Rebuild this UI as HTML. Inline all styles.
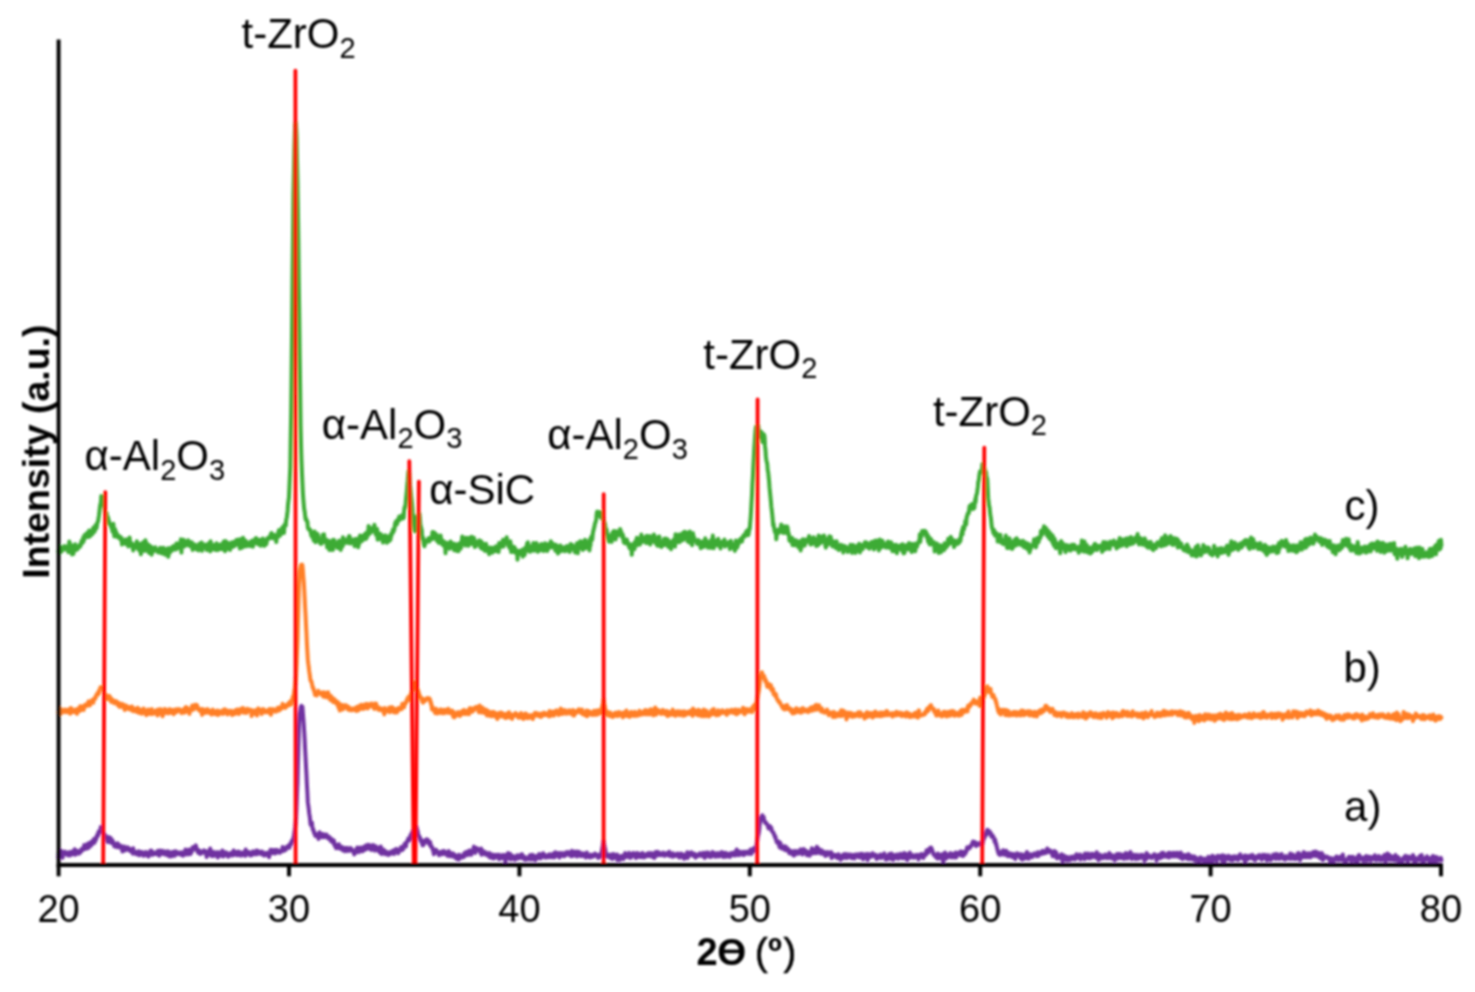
<!DOCTYPE html><html><head><meta charset="utf-8"><style>html,body{margin:0;padding:0;background:#fff;overflow:hidden}svg{display:block}</style></head><body><svg width="1475" height="992" viewBox="0 0 1475 992">
<defs><filter id="bl" filterUnits="userSpaceOnUse" x="0" y="0" width="1475" height="992"><feGaussianBlur stdDeviation="0.8"/></filter></defs>
<rect width="100%" height="100%" fill="#fff"/>
<g filter="url(#bl)">
<g fill="none" stroke-width="4.0" stroke-linejoin="round" stroke-linecap="round">
<polyline stroke="#7030A0" points="58.5,858.0 59.0,851.0 59.4,855.3 59.9,853.6 60.3,853.6 60.8,853.8 61.2,850.8 61.7,853.1 62.1,852.0 62.6,857.8 63.0,853.5 63.5,852.6 63.9,852.6 64.4,852.0 64.8,851.7 65.3,852.9 65.7,854.1 66.2,852.8 66.6,854.4 67.1,852.7 67.5,853.1 68.0,855.4 68.4,853.8 68.9,852.2 69.3,852.3 69.8,853.4 70.2,855.5 70.7,852.2 71.1,852.0 71.6,853.9 72.0,851.5 72.5,852.5 72.9,854.3 73.4,854.0 73.8,853.0 74.3,854.1 74.7,849.2 75.2,854.8 75.6,851.8 76.1,850.5 76.5,853.4 77.0,853.6 77.4,852.0 77.9,851.0 78.3,852.2 78.8,851.5 79.2,853.5 79.7,852.5 80.1,851.2 80.6,852.3 81.0,850.4 81.5,849.0 81.9,850.7 82.4,850.3 82.8,849.0 83.3,848.0 83.7,848.9 84.2,844.9 84.6,849.1 85.1,848.7 85.5,845.7 86.0,847.9 86.4,846.3 86.9,848.5 87.3,844.1 87.8,845.5 88.2,847.6 88.7,847.8 89.1,843.1 89.6,844.5 90.0,845.2 90.5,843.3 90.9,845.7 91.4,841.8 91.8,843.4 92.3,841.0 92.7,843.8 93.2,841.4 93.6,840.8 94.1,838.7 94.5,842.8 95.0,841.0 95.4,840.1 95.9,839.9 96.3,838.3 96.8,836.1 97.2,835.0 97.7,834.1 98.1,835.7 98.6,831.6 99.0,831.8 99.5,831.2 99.9,830.8 100.4,830.3 100.8,827.0 101.3,827.5 101.7,830.3 102.2,832.6 102.6,832.7 103.1,832.7 103.5,832.9 104.0,834.3 104.4,834.3 104.9,836.5 105.3,835.2 105.8,837.2 106.2,837.4 106.7,838.6 107.1,838.5 107.6,842.0 108.0,841.2 108.5,841.6 108.9,837.1 109.4,839.5 109.8,839.8 110.3,841.6 110.7,838.1 111.2,843.1 111.6,843.1 112.1,840.0 112.5,840.8 113.0,841.6 113.4,843.1 113.9,844.0 114.3,846.3 114.8,843.6 115.2,845.2 115.7,844.6 116.1,847.0 116.6,845.7 117.0,846.5 117.5,843.3 117.9,844.6 118.4,844.0 118.8,847.5 119.3,846.5 119.7,845.5 120.2,845.7 120.6,847.3 121.1,846.0 121.5,846.1 122.0,848.5 122.4,851.5 122.9,847.9 123.3,847.7 123.8,846.7 124.2,846.6 124.7,849.5 125.1,850.4 125.6,849.1 126.0,849.6 126.5,849.4 126.9,849.5 127.4,847.2 127.8,849.0 128.3,849.9 128.7,848.7 129.2,849.1 129.6,848.7 130.1,849.7 130.5,851.3 131.0,849.9 131.4,850.5 131.9,852.0 132.3,852.0 132.8,853.6 133.2,848.3 133.7,853.0 134.1,851.1 134.6,852.4 135.0,853.4 135.5,853.7 135.9,853.8 136.4,852.3 136.8,854.3 137.3,851.7 137.7,852.0 138.2,853.2 138.6,851.3 139.1,855.3 139.5,853.4 140.0,855.1 140.4,852.1 140.9,852.0 141.3,852.8 141.8,853.8 142.2,852.1 142.7,853.7 143.1,853.0 143.6,855.8 144.0,852.7 144.5,855.1 144.9,852.5 145.4,852.2 145.8,852.7 146.3,852.2 146.7,854.0 147.2,855.5 147.6,854.1 148.1,854.9 148.5,856.5 149.0,854.3 149.4,853.8 149.9,852.9 150.3,850.8 150.8,854.4 151.2,850.5 151.7,854.2 152.1,853.2 152.6,854.9 153.0,853.2 153.5,852.3 153.9,854.1 154.4,852.9 154.8,853.6 155.3,854.1 155.7,854.0 156.2,853.9 156.6,853.2 157.1,854.2 157.5,851.1 158.0,854.0 158.4,852.2 158.9,855.5 159.3,855.6 159.8,850.4 160.2,853.3 160.7,852.8 161.1,851.5 161.6,853.9 162.0,852.5 162.5,850.8 162.9,853.3 163.4,853.4 163.8,853.8 164.3,851.8 164.7,854.5 165.2,854.4 165.6,851.4 166.1,851.8 166.5,852.4 167.0,851.7 167.4,855.4 167.9,853.2 168.3,851.4 168.8,851.7 169.2,852.8 169.7,856.4 170.1,852.9 170.6,853.3 171.0,853.8 171.5,852.7 171.9,856.3 172.4,852.1 172.8,854.2 173.3,853.5 173.7,854.2 174.2,851.6 174.6,855.8 175.1,852.8 175.5,853.0 176.0,851.4 176.4,851.8 176.9,853.4 177.3,853.9 177.8,853.5 178.2,854.1 178.7,853.4 179.1,852.6 179.6,853.9 180.0,853.6 180.5,852.6 180.9,853.8 181.4,855.0 181.8,853.3 182.3,852.4 182.7,854.1 183.2,855.7 183.6,852.5 184.1,852.5 184.5,852.2 185.0,854.3 185.4,849.6 185.9,852.9 186.3,854.1 186.8,851.0 187.2,854.4 187.7,852.8 188.1,851.3 188.6,852.2 189.0,849.6 189.5,850.9 189.9,854.3 190.4,850.2 190.8,853.6 191.3,850.6 191.7,851.8 192.2,850.2 192.6,847.2 193.1,849.0 193.5,849.6 194.0,847.5 194.4,846.8 194.9,848.9 195.3,847.3 195.8,845.4 196.2,847.7 196.7,850.1 197.1,849.0 197.6,851.4 198.0,852.6 198.5,851.2 198.9,850.4 199.4,850.6 199.8,852.6 200.3,854.0 200.7,852.7 201.2,853.4 201.6,851.7 202.1,853.0 202.5,851.8 203.0,852.0 203.4,850.8 203.9,850.3 204.3,851.7 204.8,851.2 205.2,851.0 205.7,853.6 206.1,852.4 206.6,857.0 207.0,854.1 207.5,851.5 207.9,853.9 208.4,853.5 208.8,851.9 209.3,854.8 209.7,851.9 210.2,848.6 210.6,854.3 211.1,852.2 211.5,855.9 212.0,852.6 212.4,851.7 212.9,856.0 213.3,851.8 213.8,853.7 214.2,855.7 214.7,854.0 215.1,853.5 215.6,853.6 216.0,854.6 216.5,852.3 216.9,854.3 217.4,854.5 217.8,857.4 218.3,853.3 218.7,852.3 219.2,854.9 219.6,853.0 220.1,854.2 220.5,854.2 221.0,855.6 221.4,853.2 221.9,854.1 222.3,850.4 222.8,852.9 223.2,856.5 223.7,853.3 224.1,853.4 224.6,852.6 225.0,855.3 225.5,854.5 225.9,852.3 226.4,855.2 226.8,854.7 227.3,855.4 227.7,853.4 228.2,856.8 228.6,854.8 229.1,854.2 229.5,853.5 230.0,853.6 230.4,855.1 230.9,853.1 231.3,855.3 231.8,854.4 232.2,855.5 232.7,854.6 233.1,853.1 233.6,850.4 234.0,853.9 234.5,854.8 234.9,854.0 235.4,854.5 235.8,853.1 236.3,853.0 236.7,852.2 237.2,855.3 237.6,853.6 238.1,852.9 238.5,851.6 239.0,853.2 239.4,855.2 239.9,853.7 240.3,852.4 240.8,855.3 241.2,855.7 241.7,855.0 242.1,854.4 242.6,854.7 243.0,854.1 243.5,854.3 243.9,851.9 244.4,855.1 244.8,853.4 245.3,855.8 245.7,849.6 246.2,853.6 246.6,854.1 247.1,851.9 247.5,853.4 248.0,854.1 248.4,853.8 248.9,852.0 249.3,852.9 249.8,854.8 250.2,855.4 250.7,853.6 251.1,853.8 251.6,853.8 252.0,855.1 252.5,851.9 252.9,851.4 253.4,853.5 253.8,851.8 254.3,852.8 254.7,853.6 255.2,854.1 255.6,851.8 256.1,854.4 256.5,850.6 257.0,854.1 257.4,850.8 257.9,851.1 258.3,853.8 258.8,852.3 259.2,851.5 259.7,852.0 260.1,853.3 260.6,852.6 261.0,852.5 261.5,854.2 261.9,851.6 262.4,852.1 262.8,852.2 263.3,855.0 263.7,854.9 264.2,855.5 264.6,853.6 265.1,853.4 265.5,854.9 266.0,853.3 266.4,855.0 266.9,854.9 267.3,852.8 267.8,853.6 268.2,853.6 268.7,855.8 269.1,857.2 269.6,853.0 270.0,853.0 270.5,849.7 270.9,853.2 271.4,852.6 271.8,850.6 272.3,853.1 272.7,850.1 273.2,851.9 273.6,852.4 274.1,850.2 274.5,853.2 275.0,853.5 275.4,850.1 275.9,850.3 276.3,852.8 276.8,851.7 277.2,850.0 277.7,851.3 278.1,851.4 278.6,851.1 279.0,852.2 279.5,851.1 279.9,852.8 280.4,852.2 280.8,850.9 281.3,851.2 281.7,851.2 282.2,850.1 282.6,847.0 283.1,849.6 283.5,848.5 284.0,850.9 284.4,848.4 284.9,848.7 285.3,848.1 285.8,849.8 286.2,847.6 286.7,846.9 287.1,847.6 287.6,846.3 288.0,846.5 288.5,846.0 288.9,846.3 289.4,847.8 289.8,844.3 290.3,844.2 290.7,843.5 291.2,844.1 291.6,841.1 292.1,841.4 292.5,840.7 293.0,839.9 293.4,837.7 293.9,835.9 294.3,832.7 294.8,829.9 295.2,826.8 295.7,822.2 296.1,816.5 296.6,805.4 297.0,793.8 297.5,783.0 297.9,765.8 298.4,747.9 298.8,733.3 299.3,720.4 299.7,713.4 300.2,711.9 300.6,708.1 301.1,706.4 301.5,705.8 302.0,707.3 302.4,706.7 302.9,713.5 303.3,718.4 303.8,725.1 304.2,731.7 304.7,740.1 305.1,748.9 305.6,758.0 306.0,766.1 306.5,775.4 306.9,784.3 307.4,793.0 307.8,802.2 308.3,805.5 308.7,808.8 309.2,813.3 309.6,815.4 310.1,819.4 310.5,824.0 311.0,825.0 311.4,822.7 311.9,822.6 312.3,826.3 312.8,829.6 313.2,829.2 313.7,830.8 314.1,833.1 314.6,832.8 315.0,835.0 315.5,836.0 315.9,835.9 316.4,835.9 316.8,834.5 317.3,836.2 317.7,834.8 318.2,837.3 318.6,838.9 319.1,834.3 319.5,832.2 320.0,834.6 320.4,835.6 320.9,836.7 321.3,836.8 321.8,834.1 322.2,834.3 322.7,837.3 323.1,833.9 323.6,837.0 324.0,835.5 324.5,837.0 324.9,836.7 325.4,836.7 325.8,837.0 326.3,834.4 326.7,836.7 327.2,836.3 327.6,837.3 328.1,838.3 328.5,836.5 329.0,836.8 329.4,837.2 329.9,838.1 330.3,840.0 330.8,838.5 331.2,841.4 331.7,840.6 332.1,840.7 332.6,839.7 333.0,842.1 333.5,843.3 333.9,840.5 334.4,844.9 334.8,845.9 335.3,844.9 335.7,845.5 336.2,848.3 336.6,847.2 337.1,844.8 337.5,846.3 338.0,846.5 338.4,846.9 338.9,844.2 339.3,848.6 339.8,846.8 340.2,848.0 340.7,847.5 341.1,848.9 341.6,847.5 342.0,846.9 342.5,848.7 342.9,850.4 343.4,847.9 343.8,850.6 344.3,849.2 344.7,848.2 345.2,851.3 345.6,847.9 346.1,850.8 346.5,849.0 347.0,850.2 347.4,847.9 347.9,848.2 348.3,851.0 348.8,849.9 349.2,849.8 349.7,849.2 350.1,850.5 350.6,848.0 351.0,848.5 351.5,850.2 351.9,849.6 352.4,850.0 352.8,851.3 353.3,851.5 353.7,851.7 354.2,854.4 354.6,852.9 355.1,853.2 355.5,851.3 356.0,850.4 356.4,849.0 356.9,850.3 357.3,847.5 357.8,849.4 358.2,851.1 358.7,852.1 359.1,850.9 359.6,847.9 360.0,849.8 360.5,847.6 360.9,849.5 361.4,847.9 361.8,849.2 362.3,851.4 362.7,849.0 363.2,850.8 363.6,847.4 364.1,846.7 364.5,849.1 365.0,849.7 365.4,846.4 365.9,847.2 366.3,845.3 366.8,847.0 367.2,848.7 367.7,847.4 368.1,846.4 368.6,844.9 369.0,847.7 369.5,848.6 369.9,848.2 370.4,847.7 370.8,845.6 371.3,850.0 371.7,847.7 372.2,847.8 372.6,849.0 373.1,845.1 373.5,848.1 374.0,848.0 374.4,848.9 374.9,850.6 375.3,849.5 375.8,846.3 376.2,848.7 376.7,849.8 377.1,849.8 377.6,848.1 378.0,847.8 378.5,851.2 378.9,851.1 379.4,850.6 379.8,848.2 380.3,853.1 380.7,846.6 381.2,850.4 381.6,853.9 382.1,850.8 382.5,851.3 383.0,849.5 383.4,853.4 383.9,850.0 384.3,852.4 384.8,852.7 385.2,851.3 385.7,854.3 386.1,851.4 386.6,852.8 387.0,853.7 387.5,853.0 387.9,854.3 388.4,854.9 388.8,852.7 389.3,852.3 389.7,852.3 390.2,852.3 390.6,853.9 391.1,852.1 391.5,853.0 392.0,852.1 392.4,851.0 392.9,853.4 393.3,850.5 393.8,851.8 394.2,853.9 394.7,850.2 395.1,851.7 395.6,849.2 396.0,850.7 396.5,849.0 396.9,850.7 397.4,850.5 397.8,851.3 398.3,853.2 398.7,850.9 399.2,851.2 399.6,850.2 400.1,849.7 400.5,848.7 401.0,847.2 401.4,848.9 401.9,850.2 402.3,848.3 402.8,846.7 403.2,849.2 403.7,845.9 404.1,845.2 404.6,843.8 405.0,843.6 405.5,844.0 405.9,846.5 406.4,843.2 406.8,841.6 407.3,841.2 407.7,841.1 408.2,838.6 408.6,840.4 409.1,840.5 409.5,839.3 410.0,838.9 410.4,835.7 410.9,834.6 411.3,837.2 411.8,835.7 412.2,831.7 412.7,832.1 413.1,830.8 413.6,830.0 414.0,828.4 414.5,826.3 414.9,826.9 415.4,827.7 415.8,828.4 416.3,827.5 416.7,827.3 417.2,830.7 417.6,830.8 418.1,834.1 418.5,835.5 419.0,836.0 419.4,836.3 419.9,838.0 420.3,840.2 420.8,839.1 421.2,841.9 421.7,842.6 422.1,842.9 422.6,845.3 423.0,843.4 423.5,845.1 423.9,842.0 424.4,841.7 424.8,840.5 425.3,842.4 425.7,840.3 426.2,841.1 426.6,839.3 427.1,841.8 427.5,842.4 428.0,839.9 428.4,841.9 428.9,841.6 429.3,844.3 429.8,842.8 430.2,842.1 430.7,846.6 431.1,845.9 431.6,846.2 432.0,847.7 432.5,847.9 432.9,850.4 433.4,850.2 433.8,854.3 434.3,853.4 434.7,850.1 435.2,850.3 435.6,851.7 436.1,849.7 436.5,852.3 437.0,852.5 437.4,851.6 437.9,851.8 438.3,853.4 438.8,854.8 439.2,855.1 439.7,853.0 440.1,854.3 440.6,852.1 441.0,854.0 441.5,851.7 441.9,854.3 442.4,851.3 442.8,851.6 443.3,852.8 443.7,853.7 444.2,851.0 444.6,852.3 445.1,853.4 445.5,854.0 446.0,852.5 446.4,853.8 446.9,853.3 447.3,855.7 447.8,854.8 448.2,852.1 448.7,851.1 449.1,854.5 449.6,856.1 450.0,854.5 450.5,855.7 450.9,854.3 451.4,853.2 451.8,856.2 452.3,855.4 452.7,856.4 453.2,853.5 453.6,855.8 454.1,854.8 454.5,857.0 455.0,854.9 455.4,855.2 455.9,855.8 456.3,858.7 456.8,857.0 457.2,856.0 457.7,855.8 458.1,856.0 458.6,859.5 459.0,854.8 459.5,855.8 459.9,857.6 460.4,858.0 460.8,855.8 461.3,856.9 461.7,856.8 462.2,856.9 462.6,855.3 463.1,857.3 463.5,855.1 464.0,856.9 464.4,853.1 464.9,855.9 465.3,852.6 465.8,852.2 466.2,854.9 466.7,852.6 467.1,854.2 467.6,851.7 468.0,855.1 468.5,852.5 468.9,850.7 469.4,852.4 469.8,853.1 470.3,850.6 470.7,852.6 471.2,854.7 471.6,853.0 472.1,851.9 472.5,850.9 473.0,852.2 473.4,849.1 473.9,846.6 474.3,849.9 474.8,849.0 475.2,852.9 475.7,850.3 476.1,848.3 476.6,848.0 477.0,850.2 477.5,848.6 477.9,849.0 478.4,849.9 478.8,850.4 479.3,850.4 479.7,850.6 480.2,852.3 480.6,853.0 481.1,848.6 481.5,854.7 482.0,851.7 482.4,853.4 482.9,850.8 483.3,852.6 483.8,852.5 484.2,852.8 484.7,854.3 485.1,854.1 485.6,852.2 486.0,853.5 486.5,854.9 486.9,855.2 487.4,854.0 487.8,854.3 488.3,854.7 488.7,853.3 489.2,853.1 489.6,857.4 490.1,854.3 490.5,855.2 491.0,854.1 491.4,857.2 491.9,857.8 492.3,855.1 492.8,856.5 493.2,854.8 493.7,858.4 494.1,857.5 494.6,854.9 495.0,857.8 495.5,856.7 495.9,857.1 496.4,856.7 496.8,854.9 497.3,855.1 497.7,857.2 498.2,856.3 498.6,854.8 499.1,859.2 499.5,855.9 500.0,855.2 500.4,855.4 500.9,857.5 501.3,858.1 501.8,857.0 502.2,858.1 502.7,855.0 503.1,857.0 503.6,856.8 504.0,857.8 504.5,858.5 504.9,854.9 505.4,862.4 505.8,856.5 506.3,858.2 506.7,858.8 507.2,858.2 507.6,857.5 508.1,853.1 508.5,855.7 509.0,858.6 509.4,856.1 509.9,855.8 510.3,854.0 510.8,859.5 511.2,858.8 511.7,856.7 512.1,857.6 512.6,857.5 513.0,856.0 513.5,857.4 513.9,858.3 514.4,858.7 514.8,859.8 515.3,857.7 515.7,856.7 516.2,858.1 516.6,856.3 517.1,855.4 517.5,858.7 518.0,856.4 518.4,856.9 518.9,857.6 519.3,855.2 519.8,858.0 520.2,857.8 520.7,857.0 521.1,857.7 521.6,856.2 522.0,854.1 522.5,857.0 522.9,856.0 523.4,858.7 523.8,857.7 524.3,856.5 524.7,857.8 525.2,859.9 525.6,859.5 526.1,858.4 526.5,858.7 527.0,857.9 527.4,858.3 527.9,859.3 528.3,858.5 528.8,858.7 529.2,856.5 529.7,855.6 530.1,855.2 530.6,856.8 531.0,859.6 531.5,859.4 531.9,856.1 532.4,854.9 532.8,858.7 533.3,858.1 533.7,855.5 534.2,859.6 534.6,858.5 535.1,860.2 535.5,858.5 536.0,859.2 536.4,858.3 536.9,856.0 537.3,857.1 537.8,856.2 538.2,858.1 538.7,855.2 539.1,854.1 539.6,857.3 540.0,858.1 540.5,858.5 540.9,858.2 541.4,854.3 541.8,855.4 542.3,855.7 542.7,856.3 543.2,853.2 543.6,856.3 544.1,856.7 544.5,854.8 545.0,856.2 545.4,857.6 545.9,855.9 546.3,857.3 546.8,857.3 547.2,856.2 547.7,856.2 548.1,855.0 548.6,857.2 549.0,854.7 549.5,854.3 549.9,856.5 550.4,854.4 550.8,856.1 551.3,857.2 551.7,855.6 552.2,855.9 552.6,857.2 553.1,856.9 553.5,853.4 554.0,853.7 554.4,857.4 554.9,856.2 555.3,852.2 555.8,853.2 556.2,855.1 556.7,853.6 557.1,855.6 557.6,855.1 558.0,855.4 558.5,853.0 558.9,855.3 559.4,857.5 559.8,853.2 560.3,856.3 560.7,855.6 561.2,855.3 561.6,854.3 562.1,853.0 562.5,853.3 563.0,855.8 563.4,855.9 563.9,856.2 564.3,855.9 564.8,855.9 565.2,853.7 565.7,852.5 566.1,854.5 566.6,854.7 567.0,854.3 567.5,852.1 567.9,853.7 568.4,852.1 568.8,854.8 569.3,853.0 569.7,854.4 570.2,855.0 570.6,854.8 571.1,856.3 571.5,852.6 572.0,850.9 572.4,855.5 572.9,855.9 573.3,855.8 573.8,853.9 574.2,854.2 574.7,853.6 575.1,851.6 575.6,852.6 576.0,854.4 576.5,852.9 576.9,856.6 577.4,851.6 577.8,853.2 578.3,855.5 578.7,853.0 579.2,852.5 579.6,852.1 580.1,853.0 580.5,856.1 581.0,854.7 581.4,855.0 581.9,853.7 582.3,855.9 582.8,855.1 583.2,853.4 583.7,854.2 584.1,855.0 584.6,856.3 585.0,854.6 585.5,855.2 585.9,857.6 586.4,853.3 586.8,852.6 587.3,856.3 587.7,855.7 588.2,855.3 588.6,856.3 589.1,855.5 589.5,857.2 590.0,855.7 590.4,857.5 590.9,854.6 591.3,854.9 591.8,856.1 592.2,855.2 592.7,856.8 593.1,855.8 593.6,854.9 594.0,856.0 594.5,855.0 594.9,853.5 595.4,853.9 595.8,854.2 596.3,854.6 596.7,855.4 597.2,856.6 597.6,855.8 598.1,857.9 598.5,856.9 599.0,854.7 599.4,857.4 599.9,857.0 600.3,854.7 600.8,855.5 601.2,854.9 601.7,851.5 602.1,849.5 602.6,846.5 603.0,844.2 603.5,840.8 603.9,843.4 604.4,845.3 604.8,848.6 605.3,849.2 605.7,853.5 606.2,856.4 606.6,856.1 607.1,855.5 607.5,856.5 608.0,854.6 608.4,854.8 608.9,855.6 609.3,855.9 609.8,857.6 610.2,855.1 610.7,858.0 611.1,854.5 611.6,855.7 612.0,857.0 612.5,858.9 612.9,856.3 613.4,854.0 613.8,857.9 614.3,857.1 614.7,855.4 615.2,855.2 615.6,855.6 616.1,856.6 616.5,857.5 617.0,854.5 617.4,860.1 617.9,856.4 618.3,855.8 618.8,857.3 619.2,856.6 619.7,860.1 620.1,858.4 620.6,856.3 621.0,856.3 621.5,856.0 621.9,856.1 622.4,857.7 622.8,855.8 623.3,859.1 623.7,856.4 624.2,856.3 624.6,857.5 625.1,853.1 625.5,854.6 626.0,857.0 626.4,856.2 626.9,855.8 627.3,856.4 627.8,854.8 628.2,855.5 628.7,853.9 629.1,852.9 629.6,857.7 630.0,854.5 630.5,854.4 630.9,857.8 631.4,857.0 631.8,854.3 632.3,854.0 632.7,854.5 633.2,853.0 633.6,855.4 634.1,854.5 634.5,854.7 635.0,855.7 635.4,856.1 635.9,858.0 636.3,857.8 636.8,852.9 637.2,857.0 637.7,853.7 638.1,853.3 638.6,856.4 639.0,854.4 639.5,855.0 639.9,857.1 640.4,854.2 640.8,853.9 641.3,855.7 641.7,857.1 642.2,856.3 642.6,853.1 643.1,854.0 643.5,854.5 644.0,857.5 644.4,856.2 644.9,856.2 645.3,856.7 645.8,854.5 646.2,855.8 646.7,856.1 647.1,853.8 647.6,855.0 648.0,855.9 648.5,853.1 648.9,855.7 649.4,855.6 649.8,855.9 650.3,853.1 650.7,854.1 651.2,856.4 651.6,855.5 652.1,853.2 652.5,855.0 653.0,856.9 653.4,854.5 653.9,854.9 654.3,858.1 654.8,854.2 655.2,853.8 655.7,852.1 656.1,852.6 656.6,855.8 657.0,853.7 657.5,851.9 657.9,852.2 658.4,853.8 658.8,854.9 659.3,852.7 659.7,855.1 660.2,853.4 660.6,854.7 661.1,854.8 661.5,855.1 662.0,853.9 662.4,853.9 662.9,855.0 663.3,852.6 663.8,854.9 664.2,855.3 664.7,855.8 665.1,854.3 665.6,854.2 666.0,854.5 666.5,853.2 666.9,854.0 667.4,854.9 667.8,854.9 668.3,853.1 668.7,854.4 669.2,851.7 669.6,856.0 670.1,854.3 670.5,855.7 671.0,853.7 671.4,855.4 671.9,855.9 672.3,856.7 672.8,853.2 673.2,856.4 673.7,855.1 674.1,854.4 674.6,856.1 675.0,854.9 675.5,854.9 675.9,854.3 676.4,855.6 676.8,855.2 677.3,855.0 677.7,853.6 678.2,854.1 678.6,855.7 679.1,857.4 679.5,855.3 680.0,857.5 680.4,855.1 680.9,853.6 681.3,856.3 681.8,854.0 682.2,855.9 682.7,856.7 683.1,854.4 683.6,854.8 684.0,858.8 684.5,855.8 684.9,855.8 685.4,856.7 685.8,855.5 686.3,855.7 686.7,856.4 687.2,852.2 687.6,858.1 688.1,854.0 688.5,853.9 689.0,856.1 689.4,855.0 689.9,852.9 690.3,855.0 690.8,853.0 691.2,853.9 691.7,852.3 692.1,853.5 692.6,855.2 693.0,854.9 693.5,855.2 693.9,856.3 694.4,854.9 694.8,853.9 695.3,854.6 695.7,857.7 696.2,855.3 696.6,855.6 697.1,855.2 697.5,855.7 698.0,855.9 698.4,855.2 698.9,854.9 699.3,853.6 699.8,853.3 700.2,855.0 700.7,855.6 701.1,855.7 701.6,854.6 702.0,853.5 702.5,856.0 702.9,855.9 703.4,852.7 703.8,856.4 704.3,856.1 704.7,857.9 705.2,853.9 705.6,853.5 706.1,856.4 706.5,852.5 707.0,854.2 707.4,853.7 707.9,853.8 708.3,852.6 708.8,854.8 709.2,856.6 709.7,855.9 710.1,855.7 710.6,854.2 711.0,856.9 711.5,855.4 711.9,856.2 712.4,852.1 712.8,855.0 713.3,852.7 713.7,855.0 714.2,855.0 714.6,853.2 715.1,855.1 715.5,856.7 716.0,855.5 716.4,855.7 716.9,853.5 717.3,853.8 717.8,853.2 718.2,855.0 718.7,856.5 719.1,855.4 719.6,854.8 720.0,853.2 720.5,855.7 720.9,854.7 721.4,852.2 721.8,852.1 722.3,854.1 722.7,853.1 723.2,856.9 723.6,854.7 724.1,853.0 724.5,853.7 725.0,856.7 725.4,852.7 725.9,855.6 726.3,855.1 726.8,856.6 727.2,855.1 727.7,853.7 728.1,855.1 728.6,854.6 729.0,855.7 729.5,854.2 729.9,856.9 730.4,853.6 730.8,854.6 731.3,853.1 731.7,853.9 732.2,853.6 732.6,853.8 733.1,855.0 733.5,852.9 734.0,852.4 734.4,855.5 734.9,853.2 735.3,852.4 735.8,855.3 736.2,854.8 736.7,849.5 737.1,852.8 737.6,854.5 738.0,854.6 738.5,852.4 738.9,855.3 739.4,851.6 739.8,852.3 740.3,852.9 740.7,852.6 741.2,853.6 741.6,854.0 742.1,852.6 742.5,854.7 743.0,851.8 743.4,852.3 743.9,855.1 744.3,852.7 744.8,854.3 745.2,852.1 745.7,852.2 746.1,852.1 746.6,852.5 747.0,851.7 747.5,852.4 747.9,853.4 748.4,853.9 748.8,852.2 749.3,853.0 749.7,853.4 750.2,850.4 750.6,849.5 751.1,854.1 751.5,853.6 752.0,851.6 752.4,851.8 752.9,849.6 753.3,848.6 753.8,850.6 754.2,847.9 754.7,851.0 755.1,848.7 755.6,847.9 756.0,847.3 756.5,845.2 756.9,841.3 757.4,840.4 757.8,836.5 758.3,835.1 758.7,833.3 759.2,830.2 759.6,825.1 760.1,822.2 760.5,820.4 761.0,817.5 761.4,817.0 761.9,817.5 762.3,815.2 762.8,816.9 763.2,818.0 763.7,817.1 764.1,820.4 764.6,821.5 765.0,822.5 765.5,823.3 765.9,822.4 766.4,823.3 766.8,823.9 767.3,824.4 767.7,824.9 768.2,827.5 768.6,828.5 769.1,826.1 769.5,828.6 770.0,826.1 770.4,827.7 770.9,828.0 771.3,827.8 771.8,830.8 772.2,831.6 772.7,831.9 773.1,832.6 773.6,832.8 774.0,834.7 774.5,835.1 774.9,837.1 775.4,836.5 775.8,838.9 776.3,840.3 776.7,842.1 777.2,842.7 777.6,842.4 778.1,842.1 778.5,841.5 779.0,844.4 779.4,846.7 779.9,847.6 780.3,842.8 780.8,845.6 781.2,846.8 781.7,846.8 782.1,848.6 782.6,848.8 783.0,847.9 783.5,848.4 783.9,846.3 784.4,847.4 784.8,847.7 785.3,850.1 785.7,846.4 786.2,848.9 786.6,850.1 787.1,849.1 787.5,850.6 788.0,848.8 788.4,850.3 788.9,850.9 789.3,853.2 789.8,851.3 790.2,852.4 790.7,850.9 791.1,851.2 791.6,853.8 792.0,852.3 792.5,853.8 792.9,853.0 793.4,855.3 793.8,855.5 794.3,851.1 794.7,854.9 795.2,853.3 795.6,853.3 796.1,852.7 796.5,853.8 797.0,851.1 797.4,851.3 797.9,851.4 798.3,852.8 798.8,853.6 799.2,853.1 799.7,852.6 800.1,851.2 800.6,849.4 801.0,852.4 801.5,852.4 801.9,852.8 802.4,854.5 802.8,852.3 803.3,852.1 803.7,848.9 804.2,853.0 804.6,852.3 805.1,851.3 805.5,852.8 806.0,850.7 806.4,851.4 806.9,855.3 807.3,853.4 807.8,853.4 808.2,853.1 808.7,853.0 809.1,852.2 809.6,855.7 810.0,852.4 810.5,853.1 810.9,851.4 811.4,851.3 811.8,848.3 812.3,848.7 812.7,853.4 813.2,853.3 813.6,850.2 814.1,850.5 814.5,851.5 815.0,849.2 815.4,853.2 815.9,849.3 816.3,849.8 816.8,846.8 817.2,852.9 817.7,850.5 818.1,852.3 818.6,848.6 819.0,850.2 819.5,850.0 819.9,850.2 820.4,853.1 820.8,853.5 821.3,852.5 821.7,850.3 822.2,852.5 822.6,853.6 823.1,853.1 823.5,853.3 824.0,853.8 824.4,852.0 824.9,853.8 825.3,855.9 825.8,852.6 826.2,854.3 826.7,855.4 827.1,852.3 827.6,854.2 828.0,852.1 828.5,854.0 828.9,853.1 829.4,853.9 829.8,854.5 830.3,854.9 830.7,855.1 831.2,852.1 831.6,858.1 832.1,855.4 832.5,854.2 833.0,855.0 833.4,856.4 833.9,854.6 834.3,855.5 834.8,855.4 835.2,856.8 835.7,855.0 836.1,856.7 836.6,856.4 837.0,856.0 837.5,858.1 837.9,856.2 838.4,854.3 838.8,856.6 839.3,856.2 839.7,856.1 840.2,856.6 840.6,859.8 841.1,856.6 841.5,856.8 842.0,855.6 842.4,858.3 842.9,856.1 843.3,855.3 843.8,854.4 844.2,856.9 844.7,857.6 845.1,853.9 845.6,855.4 846.0,857.6 846.5,858.0 846.9,854.3 847.4,855.4 847.8,857.6 848.3,855.9 848.7,855.7 849.2,855.6 849.6,854.7 850.1,856.6 850.5,857.1 851.0,854.6 851.4,856.9 851.9,858.2 852.3,856.6 852.8,857.8 853.2,855.5 853.7,858.0 854.1,854.7 854.6,858.5 855.0,855.1 855.5,854.7 855.9,854.5 856.4,855.0 856.8,854.8 857.3,854.4 857.7,855.2 858.2,856.6 858.6,857.1 859.1,855.1 859.5,857.5 860.0,854.0 860.4,854.2 860.9,854.4 861.3,856.9 861.8,853.7 862.2,854.3 862.7,858.3 863.1,859.1 863.6,858.7 864.0,854.4 864.5,856.6 864.9,857.9 865.4,857.0 865.8,854.3 866.3,856.2 866.7,853.9 867.2,854.8 867.6,859.9 868.1,857.9 868.5,854.6 869.0,854.2 869.4,857.1 869.9,855.5 870.3,857.1 870.8,855.5 871.2,856.0 871.7,856.5 872.1,854.5 872.6,853.2 873.0,854.4 873.5,855.1 873.9,855.7 874.4,855.9 874.8,855.8 875.3,856.6 875.7,854.7 876.2,858.0 876.6,859.0 877.1,856.6 877.5,856.3 878.0,858.0 878.4,857.5 878.9,856.7 879.3,856.2 879.8,855.2 880.2,854.6 880.7,857.4 881.1,858.1 881.6,854.8 882.0,856.2 882.5,856.4 882.9,855.5 883.4,855.0 883.8,855.5 884.3,853.4 884.7,856.1 885.2,855.8 885.6,859.6 886.1,858.0 886.5,856.1 887.0,856.5 887.4,859.2 887.9,858.8 888.3,856.5 888.8,856.0 889.2,853.9 889.7,855.5 890.1,855.8 890.6,855.0 891.0,859.0 891.5,853.6 891.9,856.5 892.4,857.3 892.8,857.7 893.3,859.7 893.7,854.9 894.2,855.6 894.6,856.7 895.1,856.5 895.5,855.8 896.0,855.2 896.4,858.1 896.9,854.6 897.3,855.1 897.8,858.3 898.2,858.6 898.7,857.3 899.1,854.5 899.6,854.3 900.0,854.5 900.5,853.9 900.9,855.2 901.4,858.0 901.8,856.2 902.3,854.9 902.7,855.1 903.2,854.8 903.6,858.3 904.1,853.0 904.5,856.8 905.0,854.0 905.4,854.4 905.9,853.9 906.3,857.7 906.8,856.0 907.2,860.1 907.7,854.6 908.1,854.5 908.6,856.6 909.0,856.6 909.5,855.3 909.9,852.6 910.4,857.8 910.8,856.4 911.3,856.5 911.7,855.1 912.2,857.0 912.6,855.3 913.1,856.3 913.5,855.8 914.0,857.8 914.4,855.2 914.9,855.3 915.3,857.2 915.8,855.7 916.2,855.6 916.7,855.2 917.1,857.2 917.6,854.9 918.0,856.8 918.5,859.4 918.9,856.9 919.4,855.4 919.8,855.0 920.3,856.7 920.7,854.7 921.2,854.0 921.6,855.0 922.1,854.6 922.5,857.4 923.0,854.3 923.4,858.0 923.9,854.4 924.3,855.2 924.8,855.5 925.2,854.6 925.7,855.1 926.1,852.3 926.6,850.3 927.0,852.6 927.5,850.3 927.9,851.3 928.4,852.7 928.8,850.7 929.3,849.6 929.7,848.3 930.2,848.8 930.6,848.5 931.1,847.5 931.5,850.5 932.0,849.3 932.4,851.7 932.9,851.7 933.3,854.2 933.8,854.8 934.2,854.3 934.7,854.5 935.1,855.4 935.6,856.9 936.0,857.1 936.5,856.3 936.9,856.7 937.4,858.5 937.8,853.5 938.3,857.0 938.7,855.0 939.2,858.3 939.6,855.6 940.1,856.2 940.5,854.8 941.0,856.1 941.4,857.4 941.9,858.9 942.3,854.3 942.8,855.5 943.2,862.0 943.7,857.6 944.1,856.1 944.6,857.0 945.0,852.4 945.5,858.8 945.9,856.6 946.4,854.3 946.8,858.0 947.3,855.3 947.7,854.9 948.2,857.0 948.6,856.6 949.1,855.3 949.5,855.7 950.0,853.7 950.4,853.1 950.9,856.7 951.3,857.3 951.8,855.9 952.2,855.8 952.7,854.7 953.1,854.9 953.6,853.7 954.0,857.5 954.5,854.3 954.9,855.5 955.4,854.8 955.8,852.4 956.3,857.4 956.7,853.8 957.2,853.4 957.6,854.5 958.1,853.1 958.5,854.1 959.0,852.8 959.4,854.8 959.9,854.0 960.3,851.5 960.8,855.2 961.2,853.7 961.7,851.7 962.1,853.8 962.6,854.1 963.0,856.0 963.5,852.1 963.9,854.5 964.4,853.3 964.8,854.3 965.3,852.7 965.7,852.4 966.2,852.2 966.6,849.4 967.1,847.4 967.5,849.4 968.0,848.5 968.4,848.3 968.9,848.4 969.3,846.8 969.8,848.0 970.2,846.2 970.7,845.8 971.1,846.2 971.6,845.4 972.0,843.7 972.5,843.4 972.9,841.5 973.4,841.7 973.8,842.8 974.3,843.7 974.7,842.0 975.2,843.9 975.6,845.5 976.1,845.9 976.5,842.9 977.0,844.5 977.4,843.8 977.9,844.4 978.3,844.6 978.8,843.9 979.2,844.5 979.7,843.5 980.1,842.8 980.6,843.6 981.0,844.0 981.5,845.0 981.9,843.6 982.4,843.7 982.8,843.1 983.3,839.2 983.7,838.8 984.2,838.5 984.6,836.7 985.1,834.3 985.5,835.9 986.0,833.7 986.4,831.9 986.9,834.3 987.3,829.8 987.8,830.7 988.2,830.5 988.7,832.1 989.1,833.2 989.6,831.5 990.0,833.1 990.5,833.5 990.9,833.2 991.4,836.8 991.8,835.8 992.3,835.8 992.7,835.6 993.2,836.5 993.6,837.8 994.1,838.6 994.5,841.8 995.0,839.4 995.4,841.1 995.9,844.4 996.3,844.0 996.8,847.3 997.2,848.1 997.7,850.8 998.1,851.8 998.6,853.8 999.0,853.8 999.5,854.7 999.9,854.0 1000.4,854.8 1000.8,854.0 1001.3,852.6 1001.7,851.6 1002.2,851.8 1002.6,854.3 1003.1,850.2 1003.5,853.7 1004.0,852.4 1004.4,854.7 1004.9,854.2 1005.3,852.9 1005.8,854.1 1006.2,850.8 1006.7,854.9 1007.1,855.4 1007.6,852.4 1008.0,856.2 1008.5,854.9 1008.9,855.3 1009.4,853.2 1009.8,856.1 1010.3,856.1 1010.7,855.0 1011.2,853.8 1011.6,856.3 1012.1,856.9 1012.5,855.5 1013.0,856.4 1013.4,853.9 1013.9,855.2 1014.3,855.7 1014.8,855.4 1015.2,859.1 1015.7,855.6 1016.1,854.2 1016.6,856.3 1017.0,853.3 1017.5,855.5 1017.9,856.0 1018.4,854.3 1018.8,854.6 1019.3,854.0 1019.7,855.7 1020.2,855.0 1020.6,858.6 1021.1,857.2 1021.5,856.0 1022.0,854.4 1022.4,859.5 1022.9,858.1 1023.3,856.8 1023.8,856.3 1024.2,856.1 1024.7,855.1 1025.1,858.5 1025.6,855.9 1026.0,853.5 1026.5,854.7 1026.9,852.1 1027.4,856.9 1027.8,856.9 1028.3,858.2 1028.7,858.7 1029.2,854.3 1029.6,856.1 1030.1,856.7 1030.5,856.4 1031.0,854.4 1031.4,856.3 1031.9,855.8 1032.3,857.1 1032.8,855.1 1033.2,854.9 1033.7,854.1 1034.1,854.2 1034.6,853.4 1035.0,853.9 1035.5,854.8 1035.9,854.8 1036.4,856.1 1036.8,855.7 1037.3,854.7 1037.7,852.3 1038.2,854.9 1038.6,855.8 1039.1,852.5 1039.5,852.7 1040.0,853.1 1040.4,852.5 1040.9,853.3 1041.3,852.2 1041.8,853.9 1042.2,851.1 1042.7,852.5 1043.1,851.8 1043.6,850.9 1044.0,853.4 1044.5,852.2 1044.9,852.6 1045.4,851.3 1045.8,852.9 1046.3,852.8 1046.7,851.4 1047.2,848.5 1047.6,852.0 1048.1,851.9 1048.5,851.3 1049.0,851.6 1049.4,851.6 1049.9,851.9 1050.3,850.4 1050.8,852.0 1051.2,853.1 1051.7,852.2 1052.1,851.9 1052.6,856.2 1053.0,854.6 1053.5,853.7 1053.9,853.6 1054.4,851.0 1054.8,853.0 1055.3,854.8 1055.7,857.0 1056.2,852.3 1056.6,854.3 1057.1,858.4 1057.5,856.7 1058.0,856.4 1058.4,857.7 1058.9,856.0 1059.3,856.1 1059.8,857.5 1060.2,857.8 1060.7,855.1 1061.1,858.8 1061.6,854.2 1062.0,855.9 1062.5,861.3 1062.9,856.4 1063.4,858.1 1063.8,855.5 1064.3,856.6 1064.7,856.2 1065.2,856.9 1065.6,858.6 1066.1,860.3 1066.5,859.0 1067.0,859.9 1067.4,857.1 1067.9,860.3 1068.3,859.0 1068.8,860.1 1069.2,857.5 1069.7,857.7 1070.1,860.0 1070.6,858.9 1071.0,858.0 1071.5,856.7 1071.9,857.4 1072.4,858.4 1072.8,858.9 1073.3,856.9 1073.7,857.3 1074.2,858.5 1074.6,856.3 1075.1,859.4 1075.5,857.9 1076.0,857.7 1076.4,854.2 1076.9,855.4 1077.3,856.3 1077.8,857.0 1078.2,856.0 1078.7,858.0 1079.1,857.8 1079.6,857.3 1080.0,854.5 1080.5,859.5 1080.9,856.9 1081.4,858.0 1081.8,855.8 1082.3,857.0 1082.7,857.6 1083.2,856.8 1083.6,857.7 1084.1,856.1 1084.5,859.3 1085.0,853.4 1085.4,855.6 1085.9,857.9 1086.3,856.1 1086.8,855.9 1087.2,853.8 1087.7,858.0 1088.1,853.5 1088.6,857.1 1089.0,856.6 1089.5,857.5 1089.9,858.3 1090.4,855.0 1090.8,855.0 1091.3,855.7 1091.7,853.8 1092.2,857.4 1092.6,855.6 1093.1,856.3 1093.5,854.1 1094.0,856.1 1094.4,855.2 1094.9,856.0 1095.3,854.6 1095.8,857.7 1096.2,855.3 1096.7,852.3 1097.1,857.2 1097.6,856.1 1098.0,855.0 1098.5,860.1 1098.9,856.3 1099.4,854.5 1099.8,855.8 1100.3,857.1 1100.7,856.2 1101.2,858.5 1101.6,858.1 1102.1,855.4 1102.5,856.5 1103.0,857.6 1103.4,855.9 1103.9,855.8 1104.3,858.0 1104.8,857.4 1105.2,854.6 1105.7,855.9 1106.1,855.8 1106.6,856.4 1107.0,855.5 1107.5,858.2 1107.9,854.7 1108.4,854.7 1108.8,856.7 1109.3,853.0 1109.7,855.0 1110.2,857.7 1110.6,854.5 1111.1,855.2 1111.5,858.4 1112.0,857.4 1112.4,856.8 1112.9,857.0 1113.3,855.5 1113.8,856.6 1114.2,856.0 1114.7,860.2 1115.1,857.4 1115.6,855.8 1116.0,855.9 1116.5,856.0 1116.9,854.1 1117.4,854.8 1117.8,858.5 1118.3,853.9 1118.7,854.8 1119.2,856.9 1119.6,857.5 1120.1,854.1 1120.5,857.9 1121.0,855.1 1121.4,858.0 1121.9,856.3 1122.3,855.2 1122.8,856.7 1123.2,856.6 1123.7,854.6 1124.1,859.1 1124.6,855.1 1125.0,857.4 1125.5,855.0 1125.9,853.0 1126.4,854.1 1126.8,855.8 1127.3,856.7 1127.7,858.5 1128.2,855.8 1128.6,855.2 1129.1,853.6 1129.5,855.5 1130.0,855.9 1130.4,852.1 1130.9,857.2 1131.3,857.1 1131.8,859.0 1132.2,854.4 1132.7,856.2 1133.1,856.4 1133.6,854.6 1134.0,855.4 1134.5,855.4 1134.9,857.8 1135.4,857.7 1135.8,859.1 1136.3,856.4 1136.7,854.9 1137.2,857.6 1137.6,857.4 1138.1,857.7 1138.5,858.6 1139.0,855.9 1139.4,857.9 1139.9,855.1 1140.3,856.9 1140.8,857.7 1141.2,856.5 1141.7,856.9 1142.1,854.8 1142.6,855.9 1143.0,857.3 1143.5,855.4 1143.9,856.0 1144.4,860.7 1144.8,857.5 1145.3,855.9 1145.7,855.6 1146.2,859.2 1146.6,853.0 1147.1,856.5 1147.5,857.8 1148.0,855.8 1148.4,857.6 1148.9,855.1 1149.3,856.7 1149.8,856.6 1150.2,856.7 1150.7,856.7 1151.1,856.6 1151.6,858.2 1152.0,856.4 1152.5,855.9 1152.9,856.3 1153.4,856.4 1153.8,854.6 1154.3,854.1 1154.7,854.7 1155.2,857.0 1155.6,855.6 1156.1,855.8 1156.5,860.5 1157.0,857.9 1157.4,855.9 1157.9,855.2 1158.3,858.0 1158.8,855.0 1159.2,858.0 1159.7,856.9 1160.1,858.3 1160.6,854.9 1161.0,857.2 1161.5,853.0 1161.9,855.5 1162.4,857.1 1162.8,856.5 1163.3,852.8 1163.7,856.6 1164.2,855.9 1164.6,855.5 1165.1,854.7 1165.5,855.3 1166.0,854.8 1166.4,856.8 1166.9,856.0 1167.3,856.7 1167.8,856.0 1168.2,853.0 1168.7,855.0 1169.1,857.6 1169.6,852.8 1170.0,854.8 1170.5,853.6 1170.9,853.4 1171.4,855.2 1171.8,856.3 1172.3,856.3 1172.7,855.7 1173.2,856.5 1173.6,852.7 1174.1,856.3 1174.5,855.4 1175.0,854.3 1175.4,854.5 1175.9,853.4 1176.3,856.4 1176.8,853.7 1177.2,852.7 1177.7,854.8 1178.1,853.9 1178.6,854.3 1179.0,856.9 1179.5,854.6 1179.9,854.8 1180.4,857.8 1180.8,852.6 1181.3,855.3 1181.7,856.8 1182.2,857.5 1182.6,859.1 1183.1,854.9 1183.5,857.2 1184.0,856.4 1184.4,855.8 1184.9,855.8 1185.3,855.1 1185.8,857.7 1186.2,858.3 1186.7,855.8 1187.1,858.6 1187.6,856.6 1188.0,856.0 1188.5,854.1 1188.9,859.3 1189.4,858.7 1189.8,857.1 1190.3,857.4 1190.7,855.9 1191.2,858.7 1191.6,858.0 1192.1,859.3 1192.5,858.7 1193.0,856.6 1193.4,856.6 1193.9,859.8 1194.3,856.6 1194.8,859.7 1195.2,860.8 1195.7,857.6 1196.1,860.3 1196.6,859.6 1197.0,860.5 1197.5,858.6 1197.9,859.3 1198.4,860.1 1198.8,862.3 1199.3,860.7 1199.7,860.1 1200.2,857.4 1200.6,859.4 1201.1,857.6 1201.5,858.7 1202.0,859.6 1202.4,860.7 1202.9,860.1 1203.3,859.3 1203.8,859.3 1204.2,861.7 1204.7,858.6 1205.1,860.0 1205.6,861.8 1206.0,859.2 1206.5,860.9 1206.9,860.9 1207.4,862.5 1207.8,861.1 1208.3,856.7 1208.7,859.2 1209.2,859.6 1209.6,860.5 1210.1,859.7 1210.5,861.8 1211.0,860.7 1211.4,857.2 1211.9,857.9 1212.3,855.7 1212.8,861.5 1213.2,858.8 1213.7,858.8 1214.1,856.6 1214.6,858.0 1215.0,859.0 1215.5,857.7 1215.9,857.8 1216.4,857.5 1216.8,861.3 1217.3,857.3 1217.7,855.8 1218.2,857.3 1218.6,857.6 1219.1,857.9 1219.5,857.6 1220.0,856.3 1220.4,857.5 1220.9,858.3 1221.3,855.8 1221.8,860.9 1222.2,860.6 1222.7,855.3 1223.1,857.8 1223.6,860.1 1224.0,860.7 1224.5,861.7 1224.9,856.1 1225.4,857.0 1225.8,858.0 1226.3,859.4 1226.7,856.8 1227.2,859.1 1227.6,858.7 1228.1,859.0 1228.5,855.8 1229.0,857.9 1229.4,857.7 1229.9,856.9 1230.3,859.9 1230.8,857.3 1231.2,859.8 1231.7,856.7 1232.1,860.2 1232.6,860.3 1233.0,856.7 1233.5,858.4 1233.9,858.5 1234.4,856.2 1234.8,859.1 1235.3,858.9 1235.7,856.7 1236.2,858.1 1236.6,859.1 1237.1,857.3 1237.5,856.7 1238.0,860.0 1238.4,856.1 1238.9,857.9 1239.3,858.7 1239.8,858.2 1240.2,854.2 1240.7,856.4 1241.1,856.5 1241.6,856.4 1242.0,857.9 1242.5,857.9 1242.9,857.6 1243.4,858.1 1243.8,859.7 1244.3,860.2 1244.7,855.6 1245.2,861.8 1245.6,857.4 1246.1,859.5 1246.5,855.7 1247.0,857.2 1247.4,856.1 1247.9,859.2 1248.3,858.7 1248.8,857.3 1249.2,857.0 1249.7,857.7 1250.1,855.6 1250.6,856.0 1251.0,855.8 1251.5,858.1 1251.9,857.0 1252.4,854.9 1252.8,857.4 1253.3,857.8 1253.7,859.3 1254.2,856.4 1254.6,858.0 1255.1,860.3 1255.5,856.8 1256.0,856.8 1256.4,858.4 1256.9,856.8 1257.3,857.4 1257.8,856.2 1258.2,855.7 1258.7,858.1 1259.1,856.1 1259.6,855.2 1260.0,856.2 1260.5,856.4 1260.9,857.1 1261.4,858.2 1261.8,859.8 1262.3,855.2 1262.7,856.8 1263.2,854.7 1263.6,857.6 1264.1,858.0 1264.5,856.2 1265.0,856.0 1265.4,855.9 1265.9,855.0 1266.3,858.3 1266.8,860.4 1267.2,855.7 1267.7,860.0 1268.1,857.3 1268.6,855.3 1269.0,858.3 1269.5,858.5 1269.9,858.2 1270.4,857.4 1270.8,860.1 1271.3,857.2 1271.7,858.7 1272.2,858.6 1272.6,856.4 1273.1,854.7 1273.5,854.9 1274.0,856.6 1274.4,857.5 1274.9,854.3 1275.3,855.5 1275.8,859.0 1276.2,854.0 1276.7,857.3 1277.1,857.3 1277.6,858.0 1278.0,854.6 1278.5,857.5 1278.9,854.9 1279.4,859.1 1279.8,855.7 1280.3,857.4 1280.7,855.2 1281.2,856.6 1281.6,854.0 1282.1,857.1 1282.5,857.5 1283.0,856.6 1283.4,859.0 1283.9,857.0 1284.3,857.7 1284.8,857.6 1285.2,859.6 1285.7,855.9 1286.1,856.4 1286.6,856.4 1287.0,857.5 1287.5,857.3 1287.9,858.5 1288.4,857.5 1288.8,856.2 1289.3,857.1 1289.7,857.6 1290.2,853.5 1290.6,858.9 1291.1,856.0 1291.5,855.9 1292.0,856.7 1292.4,856.2 1292.9,854.5 1293.3,856.2 1293.8,858.8 1294.2,858.3 1294.7,858.9 1295.1,855.9 1295.6,856.3 1296.0,858.3 1296.5,858.8 1296.9,856.6 1297.4,854.9 1297.8,853.2 1298.3,857.8 1298.7,853.1 1299.2,856.2 1299.6,857.0 1300.1,860.2 1300.5,855.6 1301.0,854.9 1301.4,855.8 1301.9,855.9 1302.3,857.3 1302.8,856.3 1303.2,854.2 1303.7,852.1 1304.1,855.8 1304.6,854.2 1305.0,857.3 1305.5,853.2 1305.9,855.2 1306.4,854.0 1306.8,853.7 1307.3,857.3 1307.7,855.0 1308.2,854.4 1308.6,855.5 1309.1,853.2 1309.5,853.9 1310.0,853.6 1310.4,857.4 1310.9,854.9 1311.3,855.5 1311.8,856.1 1312.2,854.4 1312.7,854.3 1313.1,851.9 1313.6,855.1 1314.0,854.8 1314.5,853.6 1314.9,856.0 1315.4,851.6 1315.8,855.1 1316.3,852.0 1316.7,852.5 1317.2,854.1 1317.6,856.2 1318.1,852.7 1318.5,853.1 1319.0,853.0 1319.4,857.6 1319.9,855.6 1320.3,855.7 1320.8,858.4 1321.2,856.0 1321.7,852.9 1322.1,855.4 1322.6,854.9 1323.0,860.0 1323.5,855.2 1323.9,857.8 1324.4,856.8 1324.8,856.9 1325.3,857.6 1325.7,857.4 1326.2,857.0 1326.6,856.5 1327.1,857.3 1327.5,856.8 1328.0,857.2 1328.4,858.8 1328.9,858.4 1329.3,859.4 1329.8,858.8 1330.2,861.9 1330.7,858.1 1331.1,858.0 1331.6,860.8 1332.0,858.4 1332.5,859.8 1332.9,861.5 1333.4,860.0 1333.8,859.1 1334.3,860.9 1334.7,859.9 1335.2,858.4 1335.6,857.4 1336.1,858.5 1336.5,856.5 1337.0,857.4 1337.4,857.0 1337.9,859.3 1338.3,860.2 1338.8,858.1 1339.2,858.3 1339.7,857.3 1340.1,856.9 1340.6,858.1 1341.0,859.8 1341.5,859.7 1341.9,859.9 1342.4,858.6 1342.8,854.5 1343.3,860.0 1343.7,860.7 1344.2,860.1 1344.6,860.5 1345.1,860.7 1345.5,863.2 1346.0,859.6 1346.4,861.2 1346.9,860.0 1347.3,860.0 1347.8,858.7 1348.2,858.4 1348.7,857.1 1349.1,859.6 1349.6,858.1 1350.0,856.8 1350.5,857.7 1350.9,857.0 1351.4,861.3 1351.8,858.4 1352.3,858.8 1352.7,856.7 1353.2,857.1 1353.6,860.1 1354.1,858.0 1354.5,858.6 1355.0,861.2 1355.4,861.6 1355.9,859.5 1356.3,859.2 1356.8,858.4 1357.2,857.5 1357.7,861.3 1358.1,856.0 1358.6,857.8 1359.0,855.1 1359.5,855.9 1359.9,859.0 1360.4,859.3 1360.8,859.2 1361.3,858.3 1361.7,857.7 1362.2,858.2 1362.6,858.3 1363.1,860.6 1363.5,861.1 1364.0,859.1 1364.4,857.7 1364.9,857.2 1365.3,859.2 1365.8,858.4 1366.2,855.9 1366.7,860.9 1367.1,858.6 1367.6,858.3 1368.0,857.2 1368.5,856.8 1368.9,859.5 1369.4,856.7 1369.8,858.3 1370.3,858.9 1370.7,860.7 1371.2,858.8 1371.6,857.6 1372.1,857.2 1372.5,859.2 1373.0,859.3 1373.4,857.0 1373.9,858.3 1374.3,857.6 1374.8,855.3 1375.2,856.1 1375.7,859.2 1376.1,860.3 1376.6,859.4 1377.0,858.2 1377.5,857.3 1377.9,859.4 1378.4,858.9 1378.8,856.1 1379.3,859.9 1379.7,857.8 1380.2,859.9 1380.6,859.3 1381.1,859.5 1381.5,860.2 1382.0,859.7 1382.4,856.9 1382.9,856.8 1383.3,859.8 1383.8,858.8 1384.2,855.3 1384.7,854.9 1385.1,859.6 1385.6,861.4 1386.0,859.0 1386.5,857.3 1386.9,858.1 1387.4,853.6 1387.8,856.3 1388.3,859.5 1388.7,859.1 1389.2,854.7 1389.6,859.9 1390.1,859.0 1390.5,859.7 1391.0,857.9 1391.4,858.2 1391.9,856.4 1392.3,858.9 1392.8,860.0 1393.2,857.0 1393.7,859.1 1394.1,857.7 1394.6,860.2 1395.0,860.3 1395.5,855.1 1395.9,859.7 1396.4,860.5 1396.8,857.9 1397.3,858.3 1397.7,858.5 1398.2,857.1 1398.6,858.8 1399.1,861.6 1399.5,859.8 1400.0,861.3 1400.4,860.4 1400.9,860.9 1401.3,859.2 1401.8,860.0 1402.2,862.0 1402.7,860.8 1403.1,858.9 1403.6,857.6 1404.0,857.4 1404.5,859.2 1404.9,859.3 1405.4,855.8 1405.8,859.1 1406.3,859.3 1406.7,859.6 1407.2,857.9 1407.6,862.1 1408.1,859.8 1408.5,856.4 1409.0,857.2 1409.4,859.7 1409.9,859.3 1410.3,858.6 1410.8,858.2 1411.2,858.3 1411.7,857.9 1412.1,856.9 1412.6,859.5 1413.0,855.0 1413.5,858.1 1413.9,861.2 1414.4,858.3 1414.8,857.7 1415.3,862.5 1415.7,861.5 1416.2,859.5 1416.6,858.8 1417.1,858.9 1417.5,859.0 1418.0,859.1 1418.4,858.2 1418.9,860.1 1419.3,858.1 1419.8,856.1 1420.2,856.9 1420.7,858.9 1421.1,857.3 1421.6,855.0 1422.0,861.1 1422.5,859.4 1422.9,857.9 1423.4,858.3 1423.8,859.6 1424.3,861.3 1424.7,858.2 1425.2,859.8 1425.6,858.0 1426.1,859.4 1426.5,857.4 1427.0,856.4 1427.4,859.2 1427.9,858.9 1428.3,860.1 1428.8,857.9 1429.2,861.3 1429.7,859.1 1430.1,861.6 1430.6,858.2 1431.0,860.8 1431.5,858.3 1431.9,858.9 1432.4,860.3 1432.8,856.1 1433.3,856.9 1433.7,861.8 1434.2,856.4 1434.6,858.0 1435.1,859.9 1435.5,861.3 1436.0,858.2 1436.4,859.2 1436.9,857.1 1437.3,858.4 1437.8,860.7 1438.2,859.7 1438.7,859.2 1439.1,860.0 1439.6,859.6 1440.0,859.6 1440.5,858.6 1440.9,857.9 1441.4,860.4"/>
<polyline stroke="#FF7F27" points="58.5,712.4 59.0,711.4 59.4,711.4 59.9,708.2 60.3,714.1 60.8,713.3 61.2,710.9 61.7,712.5 62.1,711.6 62.6,710.4 63.0,712.2 63.5,710.3 63.9,710.4 64.4,709.7 64.8,711.6 65.3,710.9 65.7,712.1 66.2,710.5 66.6,711.5 67.1,709.8 67.5,712.3 68.0,711.2 68.4,711.5 68.9,711.6 69.3,709.3 69.8,711.7 70.2,713.7 70.7,708.0 71.1,708.1 71.6,708.4 72.0,711.9 72.5,710.8 72.9,712.2 73.4,711.7 73.8,711.3 74.3,711.2 74.7,710.5 75.2,712.1 75.6,709.4 76.1,710.6 76.5,711.5 77.0,713.7 77.4,709.7 77.9,708.8 78.3,709.4 78.8,711.4 79.2,709.5 79.7,711.0 80.1,706.3 80.6,710.1 81.0,709.8 81.5,706.3 81.9,708.4 82.4,709.5 82.8,707.4 83.3,708.2 83.7,710.0 84.2,706.7 84.6,705.7 85.1,704.8 85.5,706.3 86.0,704.9 86.4,704.5 86.9,704.6 87.3,705.6 87.8,703.0 88.2,702.5 88.7,701.3 89.1,705.6 89.6,703.8 90.0,705.2 90.5,703.0 90.9,701.8 91.4,702.8 91.8,701.7 92.3,699.8 92.7,699.6 93.2,702.8 93.6,700.4 94.1,700.0 94.5,698.7 95.0,697.5 95.4,698.6 95.9,696.6 96.3,695.0 96.8,695.1 97.2,693.5 97.7,694.2 98.1,694.5 98.6,691.4 99.0,693.1 99.5,689.8 99.9,689.5 100.4,687.5 100.8,687.0 101.3,687.8 101.7,687.6 102.2,688.0 102.6,688.4 103.1,688.8 103.5,688.8 104.0,691.1 104.4,692.9 104.9,694.1 105.3,694.7 105.8,697.8 106.2,696.0 106.7,695.7 107.1,699.0 107.6,695.7 108.0,698.9 108.5,696.6 108.9,698.7 109.4,695.9 109.8,699.8 110.3,698.5 110.7,697.8 111.2,702.0 111.6,701.0 112.1,700.1 112.5,699.6 113.0,701.2 113.4,701.2 113.9,702.7 114.3,703.2 114.8,701.2 115.2,701.7 115.7,702.0 116.1,701.1 116.6,702.3 117.0,702.9 117.5,704.3 117.9,705.4 118.4,702.6 118.8,704.8 119.3,703.5 119.7,707.0 120.2,704.4 120.6,705.2 121.1,703.7 121.5,703.9 122.0,705.7 122.4,705.4 122.9,706.9 123.3,704.4 123.8,708.0 124.2,705.9 124.7,710.0 125.1,707.2 125.6,709.3 126.0,705.6 126.5,708.1 126.9,706.2 127.4,706.7 127.8,707.4 128.3,707.1 128.7,708.0 129.2,709.2 129.6,709.4 130.1,708.5 130.5,707.1 131.0,707.9 131.4,709.0 131.9,706.5 132.3,710.7 132.8,709.5 133.2,709.3 133.7,711.1 134.1,711.0 134.6,710.3 135.0,708.6 135.5,710.6 135.9,710.8 136.4,709.2 136.8,712.0 137.3,711.4 137.7,707.8 138.2,711.0 138.6,709.1 139.1,712.9 139.5,712.3 140.0,709.5 140.4,709.7 140.9,711.3 141.3,710.9 141.8,713.7 142.2,712.4 142.7,711.0 143.1,712.0 143.6,708.6 144.0,712.1 144.5,712.8 144.9,711.4 145.4,710.7 145.8,712.8 146.3,715.1 146.7,712.5 147.2,710.8 147.6,714.3 148.1,709.5 148.5,713.3 149.0,711.4 149.4,713.7 149.9,710.7 150.3,714.0 150.8,712.4 151.2,709.4 151.7,709.1 152.1,711.6 152.6,714.0 153.0,712.2 153.5,712.1 153.9,711.8 154.4,713.2 154.8,712.5 155.3,712.2 155.7,710.6 156.2,713.7 156.6,714.0 157.1,710.1 157.5,715.4 158.0,713.4 158.4,711.2 158.9,709.4 159.3,713.4 159.8,713.0 160.2,711.2 160.7,709.3 161.1,713.9 161.6,711.3 162.0,711.0 162.5,716.3 162.9,715.0 163.4,713.6 163.8,711.5 164.3,713.0 164.7,708.9 165.2,712.4 165.6,711.0 166.1,710.4 166.5,709.8 167.0,713.1 167.4,711.8 167.9,712.0 168.3,713.4 168.8,710.9 169.2,710.2 169.7,709.2 170.1,711.2 170.6,712.7 171.0,711.2 171.5,712.7 171.9,709.9 172.4,710.7 172.8,710.5 173.3,709.8 173.7,714.2 174.2,712.7 174.6,710.6 175.1,710.8 175.5,711.9 176.0,709.4 176.4,712.3 176.9,709.2 177.3,710.5 177.8,710.1 178.2,710.9 178.7,709.4 179.1,709.1 179.6,709.7 180.0,710.2 180.5,710.7 180.9,711.2 181.4,713.1 181.8,711.9 182.3,710.2 182.7,711.6 183.2,709.5 183.6,712.8 184.1,711.4 184.5,708.5 185.0,711.6 185.4,712.1 185.9,706.9 186.3,709.8 186.8,710.1 187.2,707.7 187.7,709.0 188.1,709.2 188.6,711.1 189.0,710.9 189.5,713.9 189.9,709.2 190.4,711.1 190.8,709.2 191.3,709.3 191.7,707.0 192.2,705.6 192.6,706.9 193.1,708.6 193.5,709.7 194.0,707.9 194.4,707.1 194.9,704.7 195.3,707.4 195.8,706.8 196.2,704.9 196.7,705.9 197.1,705.2 197.6,708.9 198.0,708.0 198.5,708.3 198.9,709.8 199.4,710.6 199.8,710.3 200.3,709.4 200.7,709.6 201.2,709.1 201.6,712.0 202.1,714.9 202.5,709.1 203.0,711.8 203.4,712.2 203.9,709.9 204.3,711.8 204.8,709.7 205.2,712.9 205.7,710.4 206.1,711.6 206.6,712.5 207.0,711.1 207.5,709.1 207.9,711.0 208.4,712.8 208.8,711.6 209.3,712.4 209.7,710.6 210.2,712.4 210.6,713.1 211.1,711.9 211.5,714.6 212.0,711.7 212.4,710.7 212.9,709.7 213.3,713.8 213.8,711.6 214.2,713.2 214.7,712.4 215.1,714.1 215.6,713.8 216.0,711.3 216.5,712.2 216.9,713.7 217.4,710.5 217.8,715.0 218.3,714.7 218.7,714.5 219.2,713.0 219.6,713.6 220.1,711.3 220.5,713.2 221.0,712.1 221.4,712.7 221.9,711.9 222.3,712.8 222.8,713.9 223.2,710.0 223.7,713.6 224.1,709.5 224.6,709.3 225.0,712.3 225.5,712.7 225.9,713.1 226.4,710.2 226.8,712.7 227.3,712.8 227.7,714.4 228.2,712.2 228.6,713.1 229.1,710.9 229.5,712.0 230.0,711.5 230.4,713.3 230.9,710.8 231.3,711.2 231.8,713.1 232.2,715.0 232.7,712.7 233.1,712.4 233.6,711.2 234.0,713.5 234.5,712.4 234.9,713.9 235.4,711.9 235.8,710.0 236.3,710.5 236.7,709.8 237.2,709.5 237.6,713.5 238.1,712.4 238.5,709.5 239.0,713.9 239.4,711.6 239.9,709.7 240.3,711.7 240.8,711.2 241.2,710.2 241.7,708.6 242.1,711.9 242.6,712.2 243.0,708.0 243.5,712.4 243.9,712.6 244.4,710.9 244.8,711.7 245.3,710.9 245.7,710.1 246.2,710.6 246.6,712.9 247.1,708.8 247.5,711.3 248.0,711.3 248.4,710.3 248.9,710.7 249.3,709.5 249.8,710.0 250.2,711.2 250.7,711.7 251.1,710.0 251.6,716.0 252.0,710.5 252.5,711.5 252.9,710.9 253.4,710.7 253.8,713.3 254.3,710.8 254.7,713.7 255.2,713.5 255.6,710.3 256.1,713.3 256.5,710.7 257.0,715.6 257.4,710.6 257.9,710.0 258.3,708.4 258.8,709.5 259.2,710.8 259.7,710.1 260.1,710.0 260.6,710.8 261.0,711.4 261.5,714.0 261.9,709.4 262.4,711.1 262.8,710.3 263.3,709.2 263.7,709.4 264.2,709.9 264.6,712.3 265.1,711.3 265.5,710.8 266.0,712.2 266.4,711.8 266.9,711.2 267.3,712.0 267.8,710.4 268.2,712.5 268.7,711.9 269.1,710.5 269.6,709.0 270.0,712.9 270.5,710.7 270.9,714.7 271.4,709.2 271.8,711.3 272.3,709.2 272.7,710.5 273.2,711.4 273.6,709.3 274.1,710.2 274.5,710.4 275.0,710.3 275.4,711.3 275.9,711.7 276.3,711.3 276.8,710.3 277.2,709.1 277.7,707.9 278.1,708.5 278.6,708.9 279.0,710.6 279.5,708.7 279.9,707.4 280.4,709.6 280.8,707.4 281.3,707.1 281.7,707.4 282.2,708.1 282.6,703.8 283.1,705.3 283.5,707.0 284.0,706.1 284.4,705.3 284.9,705.5 285.3,708.0 285.8,705.3 286.2,706.7 286.7,706.5 287.1,704.5 287.6,705.5 288.0,704.1 288.5,703.7 288.9,702.7 289.4,705.1 289.8,703.1 290.3,702.2 290.7,701.1 291.2,704.4 291.6,702.3 292.1,700.3 292.5,698.4 293.0,696.2 293.4,696.4 293.9,694.7 294.3,690.5 294.8,688.3 295.2,684.3 295.7,679.5 296.1,674.5 296.6,663.4 297.0,652.4 297.5,641.2 297.9,623.7 298.4,606.4 298.8,591.8 299.3,579.5 299.7,571.8 300.2,568.7 300.6,566.7 301.1,564.9 301.5,564.7 302.0,564.6 302.4,565.3 302.9,570.7 303.3,576.4 303.8,582.5 304.2,589.0 304.7,598.6 305.1,606.8 305.6,615.7 306.0,624.7 306.5,634.0 306.9,643.6 307.4,652.1 307.8,659.2 308.3,663.8 308.7,666.8 309.2,671.0 309.6,673.8 310.1,677.3 310.5,680.4 311.0,681.4 311.4,681.3 311.9,683.7 312.3,685.4 312.8,688.1 313.2,687.8 313.7,689.1 314.1,691.2 314.6,692.4 315.0,695.0 315.5,694.0 315.9,693.1 316.4,695.2 316.8,695.4 317.3,692.6 317.7,693.3 318.2,690.8 318.6,692.8 319.1,692.1 319.5,693.2 320.0,692.9 320.4,693.6 320.9,693.9 321.3,694.7 321.8,694.7 322.2,693.5 322.7,692.4 323.1,696.3 323.6,696.7 324.0,694.4 324.5,695.7 324.9,692.6 325.4,692.8 325.8,694.6 326.3,697.2 326.7,693.7 327.2,693.9 327.6,697.6 328.1,692.2 328.5,695.8 329.0,696.1 329.4,695.6 329.9,696.5 330.3,700.1 330.8,695.8 331.2,697.4 331.7,698.2 332.1,698.1 332.6,698.0 333.0,702.1 333.5,700.8 333.9,698.7 334.4,700.5 334.8,702.3 335.3,702.7 335.7,700.4 336.2,702.8 336.6,703.7 337.1,704.3 337.5,704.8 338.0,702.2 338.4,707.4 338.9,706.0 339.3,708.7 339.8,710.5 340.2,705.9 340.7,704.4 341.1,707.9 341.6,706.4 342.0,706.3 342.5,705.5 342.9,709.5 343.4,706.5 343.8,705.2 344.3,706.7 344.7,705.6 345.2,707.2 345.6,706.4 346.1,705.4 346.5,707.9 347.0,706.1 347.4,708.2 347.9,709.3 348.3,707.3 348.8,707.1 349.2,708.7 349.7,710.2 350.1,709.2 350.6,709.6 351.0,709.4 351.5,709.6 351.9,710.3 352.4,708.5 352.8,708.9 353.3,709.5 353.7,708.5 354.2,709.7 354.6,709.9 355.1,708.9 355.5,708.1 356.0,707.6 356.4,710.9 356.9,709.7 357.3,706.8 357.8,706.7 358.2,710.4 358.7,710.0 359.1,707.8 359.6,709.3 360.0,705.6 360.5,707.5 360.9,708.5 361.4,704.7 361.8,706.3 362.3,708.3 362.7,708.9 363.2,706.3 363.6,707.3 364.1,708.7 364.5,706.0 365.0,704.2 365.4,705.7 365.9,705.0 366.3,707.4 366.8,705.4 367.2,704.1 367.7,708.5 368.1,704.2 368.6,705.4 369.0,705.9 369.5,706.3 369.9,705.5 370.4,706.3 370.8,705.5 371.3,703.5 371.7,705.3 372.2,705.6 372.6,705.7 373.1,706.4 373.5,705.6 374.0,708.6 374.4,708.8 374.9,703.6 375.3,706.9 375.8,706.3 376.2,703.7 376.7,708.2 377.1,706.8 377.6,707.2 378.0,707.0 378.5,709.7 378.9,710.0 379.4,709.1 379.8,709.8 380.3,708.7 380.7,709.1 381.2,708.4 381.6,709.7 382.1,708.9 382.5,710.7 383.0,711.5 383.4,710.9 383.9,712.1 384.3,714.4 384.8,708.0 385.2,711.2 385.7,710.4 386.1,710.7 386.6,709.5 387.0,711.4 387.5,710.8 387.9,710.2 388.4,710.8 388.8,710.1 389.3,707.4 389.7,712.2 390.2,709.8 390.6,708.7 391.1,710.6 391.5,709.2 392.0,707.1 392.4,711.5 392.9,707.8 393.3,709.9 393.8,710.4 394.2,712.5 394.7,712.5 395.1,711.0 395.6,709.4 396.0,709.6 396.5,711.6 396.9,712.5 397.4,710.3 397.8,708.3 398.3,710.6 398.7,708.3 399.2,707.8 399.6,707.9 400.1,709.1 400.5,708.5 401.0,709.2 401.4,709.3 401.9,707.9 402.3,703.7 402.8,704.0 403.2,706.0 403.7,705.0 404.1,707.2 404.6,703.7 405.0,703.0 405.5,703.6 405.9,703.1 406.4,700.8 406.8,701.3 407.3,698.5 407.7,698.3 408.2,700.3 408.6,696.6 409.1,698.9 409.5,698.0 410.0,697.4 410.4,696.7 410.9,695.7 411.3,691.6 411.8,691.3 412.2,690.7 412.7,690.9 413.1,687.4 413.6,686.4 414.0,685.4 414.5,686.1 414.9,682.2 415.4,684.0 415.8,687.4 416.3,685.2 416.7,688.9 417.2,689.1 417.6,689.0 418.1,691.5 418.5,691.6 419.0,693.9 419.4,695.0 419.9,697.1 420.3,696.6 420.8,697.7 421.2,697.9 421.7,699.2 422.1,701.3 422.6,698.8 423.0,702.7 423.5,700.7 423.9,701.1 424.4,700.8 424.8,701.2 425.3,700.3 425.7,699.2 426.2,699.7 426.6,698.9 427.1,698.1 427.5,698.5 428.0,699.0 428.4,698.3 428.9,699.3 429.3,698.3 429.8,700.5 430.2,699.7 430.7,703.5 431.1,702.8 431.6,706.1 432.0,709.5 432.5,706.8 432.9,709.8 433.4,710.0 433.8,709.9 434.3,709.5 434.7,711.8 435.2,713.2 435.6,711.8 436.1,708.8 436.5,709.4 437.0,710.8 437.4,713.4 437.9,711.6 438.3,711.9 438.8,713.0 439.2,711.1 439.7,711.6 440.1,711.5 440.6,709.4 441.0,712.6 441.5,712.3 441.9,713.2 442.4,709.9 442.8,710.6 443.3,713.0 443.7,711.8 444.2,713.3 444.6,709.8 445.1,711.3 445.5,710.1 446.0,711.4 446.4,710.4 446.9,712.0 447.3,712.6 447.8,712.4 448.2,708.8 448.7,712.8 449.1,712.5 449.6,710.5 450.0,710.9 450.5,712.2 450.9,713.2 451.4,712.1 451.8,710.5 452.3,713.6 452.7,713.5 453.2,716.8 453.6,711.7 454.1,717.4 454.5,716.4 455.0,714.4 455.4,716.4 455.9,714.2 456.3,715.6 456.8,713.4 457.2,714.7 457.7,713.1 458.1,712.1 458.6,714.1 459.0,713.5 459.5,715.0 459.9,716.0 460.4,713.7 460.8,714.0 461.3,714.0 461.7,711.2 462.2,714.1 462.6,713.3 463.1,713.2 463.5,711.6 464.0,710.0 464.4,712.2 464.9,712.8 465.3,714.0 465.8,713.7 466.2,713.8 466.7,712.0 467.1,712.5 467.6,710.5 468.0,711.7 468.5,711.8 468.9,714.2 469.4,710.6 469.8,708.1 470.3,712.0 470.7,708.9 471.2,709.9 471.6,709.3 472.1,708.4 472.5,711.8 473.0,710.6 473.4,708.5 473.9,709.3 474.3,708.2 474.8,709.6 475.2,708.0 475.7,707.1 476.1,707.1 476.6,707.2 477.0,708.3 477.5,706.8 477.9,708.3 478.4,709.2 478.8,712.2 479.3,710.3 479.7,705.6 480.2,709.2 480.6,709.5 481.1,710.6 481.5,712.5 482.0,711.6 482.4,707.5 482.9,711.3 483.3,711.3 483.8,711.6 484.2,713.0 484.7,709.6 485.1,712.9 485.6,709.4 486.0,711.9 486.5,712.7 486.9,715.6 487.4,711.8 487.8,710.7 488.3,714.5 488.7,712.4 489.2,715.7 489.6,712.5 490.1,712.4 490.5,715.9 491.0,714.3 491.4,715.3 491.9,711.9 492.3,716.2 492.8,713.3 493.2,715.6 493.7,712.9 494.1,712.0 494.6,713.7 495.0,714.3 495.5,716.5 495.9,714.7 496.4,715.5 496.8,715.4 497.3,719.1 497.7,713.3 498.2,716.3 498.6,714.1 499.1,714.8 499.5,713.9 500.0,716.5 500.4,712.6 500.9,712.6 501.3,714.1 501.8,712.8 502.2,716.0 502.7,716.5 503.1,714.1 503.6,716.1 504.0,714.0 504.5,715.2 504.9,715.3 505.4,718.1 505.8,715.3 506.3,714.0 506.7,714.1 507.2,717.4 507.6,713.2 508.1,715.0 508.5,715.4 509.0,712.2 509.4,715.1 509.9,717.5 510.3,716.2 510.8,714.4 511.2,716.9 511.7,716.9 512.1,718.9 512.6,714.6 513.0,715.2 513.5,715.7 513.9,715.5 514.4,715.9 514.8,715.6 515.3,714.5 515.7,713.1 516.2,715.0 516.6,713.8 517.1,714.6 517.5,715.6 518.0,717.0 518.4,717.7 518.9,714.9 519.3,717.1 519.8,717.5 520.2,716.2 520.7,714.0 521.1,713.0 521.6,717.3 522.0,717.8 522.5,716.9 522.9,715.1 523.4,718.9 523.8,718.8 524.3,716.7 524.7,716.2 525.2,713.5 525.6,717.6 526.1,713.7 526.5,717.1 527.0,716.9 527.4,716.0 527.9,718.2 528.3,715.6 528.8,716.9 529.2,717.2 529.7,716.5 530.1,715.4 530.6,717.7 531.0,716.5 531.5,715.3 531.9,715.4 532.4,716.0 532.8,719.1 533.3,715.8 533.7,715.2 534.2,714.1 534.6,713.8 535.1,712.8 535.5,715.8 536.0,715.5 536.4,713.9 536.9,713.4 537.3,715.1 537.8,714.6 538.2,713.6 538.7,716.0 539.1,715.7 539.6,715.5 540.0,716.5 540.5,714.2 540.9,717.1 541.4,713.4 541.8,715.6 542.3,715.7 542.7,714.4 543.2,715.4 543.6,713.0 544.1,712.6 544.5,714.3 545.0,713.2 545.4,715.0 545.9,714.1 546.3,714.9 546.8,714.5 547.2,714.2 547.7,713.7 548.1,713.0 548.6,712.8 549.0,716.5 549.5,711.1 549.9,713.6 550.4,715.2 550.8,714.1 551.3,715.7 551.7,714.5 552.2,711.8 552.6,713.3 553.1,711.7 553.5,715.0 554.0,715.5 554.4,712.7 554.9,714.0 555.3,712.5 555.8,710.7 556.2,712.3 556.7,710.4 557.1,711.8 557.6,713.1 558.0,713.9 558.5,714.9 558.9,712.6 559.4,713.3 559.8,713.7 560.3,713.6 560.7,708.5 561.2,711.8 561.6,714.1 562.1,711.2 562.5,713.1 563.0,713.7 563.4,709.9 563.9,712.3 564.3,713.1 564.8,712.8 565.2,710.3 565.7,713.2 566.1,711.8 566.6,713.8 567.0,713.2 567.5,711.4 567.9,712.8 568.4,711.4 568.8,711.4 569.3,710.3 569.7,712.1 570.2,713.7 570.6,712.7 571.1,712.6 571.5,711.8 572.0,711.8 572.4,713.7 572.9,710.1 573.3,715.4 573.8,712.1 574.2,715.4 574.7,713.8 575.1,711.2 575.6,712.9 576.0,712.0 576.5,712.0 576.9,712.6 577.4,710.7 577.8,710.6 578.3,710.8 578.7,709.3 579.2,711.1 579.6,711.9 580.1,712.1 580.5,712.2 581.0,711.6 581.4,713.3 581.9,709.4 582.3,712.2 582.8,712.5 583.2,714.4 583.7,714.0 584.1,714.5 584.6,713.5 585.0,715.0 585.5,712.3 585.9,713.8 586.4,710.5 586.8,716.2 587.3,716.1 587.7,713.1 588.2,712.7 588.6,711.0 589.1,712.1 589.5,714.4 590.0,714.0 590.4,712.0 590.9,713.5 591.3,713.1 591.8,714.7 592.2,715.0 592.7,713.6 593.1,714.0 593.6,713.9 594.0,710.8 594.5,714.3 594.9,713.8 595.4,714.8 595.8,710.8 596.3,714.5 596.7,712.2 597.2,713.2 597.6,714.5 598.1,710.3 598.5,710.2 599.0,713.5 599.4,710.6 599.9,711.0 600.3,713.2 600.8,712.4 601.2,712.3 601.7,709.3 602.1,706.6 602.6,704.9 603.0,703.5 603.5,698.9 603.9,702.2 604.4,704.5 604.8,706.2 605.3,709.0 605.7,710.4 606.2,712.4 606.6,713.6 607.1,713.1 607.5,715.2 608.0,711.9 608.4,713.5 608.9,712.8 609.3,713.9 609.8,715.9 610.2,712.4 610.7,715.4 611.1,713.8 611.6,714.5 612.0,716.7 612.5,715.4 612.9,717.0 613.4,715.9 613.8,715.4 614.3,715.2 614.7,713.0 615.2,714.5 615.6,715.5 616.1,715.3 616.5,712.6 617.0,716.1 617.4,715.5 617.9,712.8 618.3,713.4 618.8,715.7 619.2,712.1 619.7,713.6 620.1,714.8 620.6,714.4 621.0,714.7 621.5,715.2 621.9,713.3 622.4,713.7 622.8,717.4 623.3,712.5 623.7,713.8 624.2,714.6 624.6,713.2 625.1,715.9 625.5,714.4 626.0,715.4 626.4,710.4 626.9,716.1 627.3,716.0 627.8,713.1 628.2,716.1 628.7,714.8 629.1,715.6 629.6,716.9 630.0,714.4 630.5,712.3 630.9,713.8 631.4,711.9 631.8,712.7 632.3,712.8 632.7,712.9 633.2,715.8 633.6,715.2 634.1,712.6 634.5,715.8 635.0,711.8 635.4,713.1 635.9,713.8 636.3,715.8 636.8,714.7 637.2,714.3 637.7,715.5 638.1,714.6 638.6,715.4 639.0,712.0 639.5,710.8 639.9,712.6 640.4,714.4 640.8,713.8 641.3,714.6 641.7,714.1 642.2,713.5 642.6,714.1 643.1,711.9 643.5,714.3 644.0,711.3 644.4,712.5 644.9,710.2 645.3,713.0 645.8,710.1 646.2,714.4 646.7,710.4 647.1,712.6 647.6,711.9 648.0,710.6 648.5,713.9 648.9,711.7 649.4,714.5 649.8,710.8 650.3,711.3 650.7,709.3 651.2,713.2 651.6,713.7 652.1,712.9 652.5,712.2 653.0,710.8 653.4,715.4 653.9,713.1 654.3,709.0 654.8,711.2 655.2,707.6 655.7,714.2 656.1,714.6 656.6,713.7 657.0,711.7 657.5,710.8 657.9,709.8 658.4,712.8 658.8,711.1 659.3,711.7 659.7,711.2 660.2,711.4 660.6,713.2 661.1,714.0 661.5,711.9 662.0,711.5 662.4,709.9 662.9,709.9 663.3,710.3 663.8,713.2 664.2,712.7 664.7,713.9 665.1,713.6 665.6,712.5 666.0,711.4 666.5,712.8 666.9,711.0 667.4,716.1 667.8,713.3 668.3,712.2 668.7,715.6 669.2,712.0 669.6,713.3 670.1,712.3 670.5,713.0 671.0,712.0 671.4,713.3 671.9,714.7 672.3,710.8 672.8,709.7 673.2,714.8 673.7,713.1 674.1,714.2 674.6,712.4 675.0,715.2 675.5,715.8 675.9,711.7 676.4,714.5 676.8,712.4 677.3,711.2 677.7,713.1 678.2,714.2 678.6,711.4 679.1,711.5 679.5,715.3 680.0,713.3 680.4,713.8 680.9,711.5 681.3,711.9 681.8,713.3 682.2,713.7 682.7,713.4 683.1,715.8 683.6,713.7 684.0,711.3 684.5,712.4 684.9,713.4 685.4,715.3 685.8,712.3 686.3,712.6 686.7,713.3 687.2,711.9 687.6,711.7 688.1,712.0 688.5,713.9 689.0,713.5 689.4,712.4 689.9,713.4 690.3,710.8 690.8,714.3 691.2,713.9 691.7,713.2 692.1,710.6 692.6,715.9 693.0,708.5 693.5,711.3 693.9,711.1 694.4,713.7 694.8,710.2 695.3,712.9 695.7,712.2 696.2,712.2 696.6,714.3 697.1,714.8 697.5,713.7 698.0,712.8 698.4,709.8 698.9,715.5 699.3,712.7 699.8,710.6 700.2,713.5 700.7,715.3 701.1,713.0 701.6,711.3 702.0,716.3 702.5,713.8 702.9,713.3 703.4,714.3 703.8,709.4 704.3,712.6 704.7,712.3 705.2,716.2 705.6,711.7 706.1,712.0 706.5,710.7 707.0,711.9 707.4,713.0 707.9,713.7 708.3,713.1 708.8,716.5 709.2,713.8 709.7,714.2 710.1,715.3 710.6,714.0 711.0,712.1 711.5,710.2 711.9,712.8 712.4,710.9 712.8,714.3 713.3,711.2 713.7,708.9 714.2,712.2 714.6,713.9 715.1,711.9 715.5,712.6 716.0,713.1 716.4,715.4 716.9,713.2 717.3,712.7 717.8,711.8 718.2,710.4 718.7,715.1 719.1,714.4 719.6,711.3 720.0,713.5 720.5,713.1 720.9,711.8 721.4,711.8 721.8,713.2 722.3,710.3 722.7,711.3 723.2,712.3 723.6,712.4 724.1,711.8 724.5,712.3 725.0,713.0 725.4,711.2 725.9,712.9 726.3,712.0 726.8,714.9 727.2,710.2 727.7,711.8 728.1,713.4 728.6,712.0 729.0,711.8 729.5,711.4 729.9,712.5 730.4,710.2 730.8,711.8 731.3,711.8 731.7,709.9 732.2,712.2 732.6,711.1 733.1,712.3 733.5,712.9 734.0,712.1 734.4,709.7 734.9,712.0 735.3,709.4 735.8,710.5 736.2,714.3 736.7,711.7 737.1,714.1 737.6,711.4 738.0,711.6 738.5,709.8 738.9,712.8 739.4,710.9 739.8,712.3 740.3,711.7 740.7,711.8 741.2,711.4 741.6,710.9 742.1,711.1 742.5,710.0 743.0,707.8 743.4,711.6 743.9,713.6 744.3,712.3 744.8,714.3 745.2,711.2 745.7,709.0 746.1,709.0 746.6,711.5 747.0,711.0 747.5,710.5 747.9,711.8 748.4,709.3 748.8,711.2 749.3,709.9 749.7,710.2 750.2,711.6 750.6,709.7 751.1,711.7 751.5,711.4 752.0,708.1 752.4,712.1 752.9,706.7 753.3,708.4 753.8,709.5 754.2,704.9 754.7,709.1 755.1,708.9 755.6,705.6 756.0,704.2 756.5,702.2 756.9,699.6 757.4,698.5 757.8,695.2 758.3,693.5 758.7,691.4 759.2,687.8 759.6,684.2 760.1,678.5 760.5,676.1 761.0,676.7 761.4,675.1 761.9,672.2 762.3,673.9 762.8,675.0 763.2,675.8 763.7,678.2 764.1,675.9 764.6,678.1 765.0,681.1 765.5,681.0 765.9,680.1 766.4,682.6 766.8,685.0 767.3,686.8 767.7,685.3 768.2,686.5 768.6,683.8 769.1,685.4 769.5,687.5 770.0,684.7 770.4,686.4 770.9,685.2 771.3,689.9 771.8,688.9 772.2,690.4 772.7,688.6 773.1,689.6 773.6,694.2 774.0,692.6 774.5,693.2 774.9,695.1 775.4,696.3 775.8,694.0 776.3,696.2 776.7,698.4 777.2,699.3 777.6,700.3 778.1,700.0 778.5,700.8 779.0,702.3 779.4,701.8 779.9,702.4 780.3,703.4 780.8,704.6 781.2,705.2 781.7,705.8 782.1,706.9 782.6,707.8 783.0,708.4 783.5,708.6 783.9,706.2 784.4,709.5 784.8,705.8 785.3,709.0 785.7,706.8 786.2,708.4 786.6,709.0 787.1,704.9 787.5,708.5 788.0,708.3 788.4,707.5 788.9,709.1 789.3,708.1 789.8,709.6 790.2,708.4 790.7,711.2 791.1,710.9 791.6,711.4 792.0,709.7 792.5,713.5 792.9,713.4 793.4,710.5 793.8,710.3 794.3,710.5 794.7,712.2 795.2,712.8 795.6,710.2 796.1,708.3 796.5,711.9 797.0,711.3 797.4,711.5 797.9,711.7 798.3,709.2 798.8,710.9 799.2,710.5 799.7,711.5 800.1,712.5 800.6,710.5 801.0,709.2 801.5,712.5 801.9,711.7 802.4,710.4 802.8,708.0 803.3,709.2 803.7,710.7 804.2,711.2 804.6,709.9 805.1,711.4 805.5,709.6 806.0,709.8 806.4,710.9 806.9,709.8 807.3,710.5 807.8,711.6 808.2,712.2 808.7,709.5 809.1,709.8 809.6,708.5 810.0,708.2 810.5,710.7 810.9,709.3 811.4,707.3 811.8,710.7 812.3,708.5 812.7,709.2 813.2,710.3 813.6,709.9 814.1,709.2 814.5,706.1 815.0,709.8 815.4,707.6 815.9,706.2 816.3,704.9 816.8,709.7 817.2,707.6 817.7,707.4 818.1,707.9 818.6,707.1 819.0,705.3 819.5,708.8 819.9,709.6 820.4,709.3 820.8,710.9 821.3,711.6 821.7,708.3 822.2,709.4 822.6,711.4 823.1,710.6 823.5,710.9 824.0,712.4 824.4,712.6 824.9,711.4 825.3,712.4 825.8,711.4 826.2,712.2 826.7,710.8 827.1,709.6 827.6,712.1 828.0,712.2 828.5,714.2 828.9,715.3 829.4,713.4 829.8,714.1 830.3,712.7 830.7,712.3 831.2,713.2 831.6,713.2 832.1,714.0 832.5,714.3 833.0,717.1 833.4,714.1 833.9,711.9 834.3,714.6 834.8,713.8 835.2,715.3 835.7,716.9 836.1,713.9 836.6,714.8 837.0,715.3 837.5,713.2 837.9,714.9 838.4,715.3 838.8,715.5 839.3,716.0 839.7,714.9 840.2,715.0 840.6,712.1 841.1,710.2 841.5,712.8 842.0,716.1 842.4,714.0 842.9,710.5 843.3,713.3 843.8,714.5 844.2,711.3 844.7,714.9 845.1,712.4 845.6,715.9 846.0,714.6 846.5,719.5 846.9,712.8 847.4,715.2 847.8,712.6 848.3,716.3 848.7,714.8 849.2,716.1 849.6,715.0 850.1,713.1 850.5,713.7 851.0,712.9 851.4,713.3 851.9,715.2 852.3,716.9 852.8,716.8 853.2,716.3 853.7,714.4 854.1,716.0 854.6,713.9 855.0,715.4 855.5,716.3 855.9,714.7 856.4,714.1 856.8,713.9 857.3,715.2 857.7,714.0 858.2,712.2 858.6,714.0 859.1,712.9 859.5,716.6 860.0,714.5 860.4,712.3 860.9,714.9 861.3,715.6 861.8,714.9 862.2,714.2 862.7,714.9 863.1,715.5 863.6,716.7 864.0,715.8 864.5,718.6 864.9,714.9 865.4,717.8 865.8,715.5 866.3,712.7 866.7,713.3 867.2,712.2 867.6,712.6 868.1,716.8 868.5,713.8 869.0,715.6 869.4,713.3 869.9,714.6 870.3,713.0 870.8,716.1 871.2,714.3 871.7,713.5 872.1,714.0 872.6,717.6 873.0,715.1 873.5,715.8 873.9,712.4 874.4,713.6 874.8,714.7 875.3,711.5 875.7,716.1 876.2,714.4 876.6,714.0 877.1,713.7 877.5,713.3 878.0,713.3 878.4,716.1 878.9,715.1 879.3,715.6 879.8,713.6 880.2,712.6 880.7,716.2 881.1,712.7 881.6,713.7 882.0,715.3 882.5,715.7 882.9,712.4 883.4,714.0 883.8,714.6 884.3,714.5 884.7,713.3 885.2,715.4 885.6,713.6 886.1,714.0 886.5,711.1 887.0,714.1 887.4,711.5 887.9,715.2 888.3,715.0 888.8,713.5 889.2,714.6 889.7,714.3 890.1,714.0 890.6,714.8 891.0,714.2 891.5,713.5 891.9,713.2 892.4,716.6 892.8,714.1 893.3,713.6 893.7,714.8 894.2,713.3 894.6,713.3 895.1,714.7 895.5,715.4 896.0,714.9 896.4,711.7 896.9,714.5 897.3,714.2 897.8,715.0 898.2,713.1 898.7,712.8 899.1,714.2 899.6,712.9 900.0,712.7 900.5,714.5 900.9,715.7 901.4,714.8 901.8,716.2 902.3,713.2 902.7,715.8 903.2,714.9 903.6,713.8 904.1,714.2 904.5,713.5 905.0,714.4 905.4,713.5 905.9,716.6 906.3,714.0 906.8,712.4 907.2,714.1 907.7,714.8 908.1,713.9 908.6,715.8 909.0,713.4 909.5,713.8 909.9,717.3 910.4,715.2 910.8,716.0 911.3,715.9 911.7,716.1 912.2,715.2 912.6,714.7 913.1,716.6 913.5,714.1 914.0,715.1 914.4,715.8 914.9,714.2 915.3,712.8 915.8,715.8 916.2,716.7 916.7,715.4 917.1,712.3 917.6,715.7 918.0,717.6 918.5,712.2 918.9,710.4 919.4,714.0 919.8,714.3 920.3,715.5 920.7,715.5 921.2,714.6 921.6,715.4 922.1,714.7 922.5,714.5 923.0,714.6 923.4,714.0 923.9,714.6 924.3,713.9 924.8,712.5 925.2,714.0 925.7,711.2 926.1,711.6 926.6,711.8 927.0,708.7 927.5,710.2 927.9,711.2 928.4,710.6 928.8,707.5 929.3,707.3 929.7,706.4 930.2,707.0 930.6,706.3 931.1,705.2 931.5,708.0 932.0,708.3 932.4,708.8 932.9,708.7 933.3,710.0 933.8,708.9 934.2,711.8 934.7,712.4 935.1,712.4 935.6,711.6 936.0,715.1 936.5,715.6 936.9,711.4 937.4,714.8 937.8,714.2 938.3,710.4 938.7,714.9 939.2,715.3 939.6,715.4 940.1,714.6 940.5,713.6 941.0,713.6 941.4,715.2 941.9,716.4 942.3,714.0 942.8,714.3 943.2,715.6 943.7,711.7 944.1,715.6 944.6,714.3 945.0,711.7 945.5,715.8 945.9,713.1 946.4,715.6 946.8,716.5 947.3,712.8 947.7,712.6 948.2,714.4 948.6,711.8 949.1,715.5 949.5,714.6 950.0,715.7 950.4,711.5 950.9,714.2 951.3,714.3 951.8,711.1 952.2,714.7 952.7,711.4 953.1,713.5 953.6,711.3 954.0,714.4 954.5,715.8 954.9,713.5 955.4,713.3 955.8,715.1 956.3,712.8 956.7,713.4 957.2,714.5 957.6,714.0 958.1,715.4 958.5,714.6 959.0,715.6 959.4,712.8 959.9,714.4 960.3,711.0 960.8,713.3 961.2,714.2 961.7,714.8 962.1,709.7 962.6,711.1 963.0,712.3 963.5,710.0 963.9,711.8 964.4,711.9 964.8,710.3 965.3,710.2 965.7,709.5 966.2,710.4 966.6,710.9 967.1,709.1 967.5,711.6 968.0,705.7 968.4,706.3 968.9,707.5 969.3,704.9 969.8,706.1 970.2,706.0 970.7,704.5 971.1,703.3 971.6,704.1 972.0,703.0 972.5,702.7 972.9,701.9 973.4,700.4 973.8,699.7 974.3,701.2 974.7,702.2 975.2,701.8 975.6,703.5 976.1,702.4 976.5,703.7 977.0,702.6 977.4,701.3 977.9,703.6 978.3,703.1 978.8,701.1 979.2,701.8 979.7,706.1 980.1,697.4 980.6,703.4 981.0,701.7 981.5,701.2 981.9,701.0 982.4,700.3 982.8,702.2 983.3,698.1 983.7,697.0 984.2,696.9 984.6,695.2 985.1,693.2 985.5,692.4 986.0,690.5 986.4,692.3 986.9,689.0 987.3,686.3 987.8,690.0 988.2,690.1 988.7,690.1 989.1,689.8 989.6,692.2 990.0,689.6 990.5,688.9 990.9,692.5 991.4,694.0 991.8,694.2 992.3,696.8 992.7,695.8 993.2,694.8 993.6,695.5 994.1,697.8 994.5,698.1 995.0,699.4 995.4,699.2 995.9,702.2 996.3,702.3 996.8,705.2 997.2,706.6 997.7,708.5 998.1,711.0 998.6,710.4 999.0,713.0 999.5,709.4 999.9,711.5 1000.4,712.7 1000.8,714.5 1001.3,709.9 1001.7,711.3 1002.2,712.2 1002.6,711.8 1003.1,710.8 1003.5,709.9 1004.0,710.4 1004.4,712.4 1004.9,710.3 1005.3,715.1 1005.8,714.6 1006.2,709.9 1006.7,712.1 1007.1,714.7 1007.6,715.1 1008.0,714.7 1008.5,710.9 1008.9,712.7 1009.4,715.5 1009.8,713.6 1010.3,712.9 1010.7,714.1 1011.2,714.9 1011.6,713.7 1012.1,713.8 1012.5,715.1 1013.0,712.8 1013.4,712.0 1013.9,714.8 1014.3,711.9 1014.8,714.6 1015.2,712.9 1015.7,715.2 1016.1,712.1 1016.6,715.6 1017.0,714.4 1017.5,713.7 1017.9,712.7 1018.4,713.7 1018.8,712.4 1019.3,712.1 1019.7,715.3 1020.2,714.5 1020.6,715.5 1021.1,711.6 1021.5,710.7 1022.0,711.2 1022.4,714.6 1022.9,714.8 1023.3,710.8 1023.8,715.2 1024.2,713.0 1024.7,711.8 1025.1,713.4 1025.6,714.5 1026.0,713.4 1026.5,713.4 1026.9,712.4 1027.4,711.3 1027.8,713.0 1028.3,711.3 1028.7,714.6 1029.2,712.4 1029.6,715.4 1030.1,711.2 1030.5,715.3 1031.0,711.9 1031.4,712.0 1031.9,713.4 1032.3,714.4 1032.8,712.9 1033.2,712.6 1033.7,716.1 1034.1,714.0 1034.6,711.7 1035.0,712.8 1035.5,716.0 1035.9,714.2 1036.4,714.7 1036.8,716.4 1037.3,712.1 1037.7,713.4 1038.2,711.8 1038.6,712.7 1039.1,713.5 1039.5,710.4 1040.0,712.2 1040.4,712.0 1040.9,713.1 1041.3,710.7 1041.8,709.6 1042.2,712.1 1042.7,709.5 1043.1,711.2 1043.6,711.5 1044.0,709.2 1044.5,710.3 1044.9,708.4 1045.4,705.9 1045.8,707.2 1046.3,705.9 1046.7,708.8 1047.2,707.0 1047.6,708.2 1048.1,708.3 1048.5,710.2 1049.0,708.7 1049.4,708.6 1049.9,710.3 1050.3,712.1 1050.8,710.2 1051.2,711.1 1051.7,710.5 1052.1,710.1 1052.6,708.9 1053.0,711.3 1053.5,711.5 1053.9,711.8 1054.4,715.1 1054.8,712.0 1055.3,713.0 1055.7,712.3 1056.2,714.7 1056.6,712.7 1057.1,716.1 1057.5,713.0 1058.0,714.9 1058.4,715.4 1058.9,713.6 1059.3,715.2 1059.8,714.2 1060.2,713.1 1060.7,713.3 1061.1,714.5 1061.6,716.6 1062.0,713.1 1062.5,714.8 1062.9,712.8 1063.4,714.6 1063.8,712.4 1064.3,713.2 1064.7,714.5 1065.2,713.5 1065.6,714.4 1066.1,716.6 1066.5,715.0 1067.0,714.3 1067.4,713.7 1067.9,714.6 1068.3,717.2 1068.8,715.4 1069.2,715.2 1069.7,716.6 1070.1,716.5 1070.6,716.9 1071.0,715.0 1071.5,714.0 1071.9,713.2 1072.4,714.7 1072.8,715.5 1073.3,717.2 1073.7,716.6 1074.2,715.2 1074.6,717.3 1075.1,714.2 1075.5,714.6 1076.0,714.3 1076.4,714.0 1076.9,714.9 1077.3,714.1 1077.8,714.2 1078.2,717.6 1078.7,713.5 1079.1,714.0 1079.6,715.2 1080.0,716.1 1080.5,716.3 1080.9,715.4 1081.4,715.3 1081.8,715.5 1082.3,717.0 1082.7,714.4 1083.2,712.2 1083.6,715.9 1084.1,714.0 1084.5,715.8 1085.0,717.9 1085.4,715.9 1085.9,718.6 1086.3,713.4 1086.8,716.2 1087.2,716.3 1087.7,716.9 1088.1,714.5 1088.6,715.5 1089.0,715.2 1089.5,715.1 1089.9,712.6 1090.4,712.0 1090.8,715.5 1091.3,715.5 1091.7,714.7 1092.2,715.8 1092.6,716.5 1093.1,713.4 1093.5,716.3 1094.0,717.2 1094.4,716.8 1094.9,716.0 1095.3,716.1 1095.8,713.2 1096.2,714.6 1096.7,716.8 1097.1,717.3 1097.6,715.9 1098.0,714.6 1098.5,714.8 1098.9,715.9 1099.4,717.7 1099.8,715.6 1100.3,713.6 1100.7,715.4 1101.2,715.1 1101.6,718.0 1102.1,715.4 1102.5,714.5 1103.0,714.5 1103.4,712.9 1103.9,713.4 1104.3,714.3 1104.8,713.9 1105.2,715.6 1105.7,715.3 1106.1,716.6 1106.6,717.6 1107.0,715.2 1107.5,714.6 1107.9,712.0 1108.4,715.2 1108.8,715.7 1109.3,713.3 1109.7,714.1 1110.2,713.8 1110.6,716.3 1111.1,715.8 1111.5,716.6 1112.0,712.7 1112.4,718.3 1112.9,712.8 1113.3,712.7 1113.8,714.1 1114.2,712.8 1114.7,716.7 1115.1,713.5 1115.6,713.1 1116.0,715.7 1116.5,715.9 1116.9,713.0 1117.4,713.6 1117.8,714.0 1118.3,714.2 1118.7,716.7 1119.2,715.8 1119.6,715.6 1120.1,716.0 1120.5,714.5 1121.0,715.5 1121.4,713.8 1121.9,712.6 1122.3,716.3 1122.8,711.0 1123.2,713.9 1123.7,713.0 1124.1,711.4 1124.6,713.0 1125.0,713.8 1125.5,714.7 1125.9,713.3 1126.4,715.5 1126.8,715.1 1127.3,715.8 1127.7,711.8 1128.2,714.1 1128.6,714.1 1129.1,715.9 1129.5,713.9 1130.0,714.3 1130.4,713.5 1130.9,713.5 1131.3,713.8 1131.8,716.5 1132.2,713.5 1132.7,711.3 1133.1,715.2 1133.6,714.0 1134.0,715.3 1134.5,715.2 1134.9,713.9 1135.4,713.8 1135.8,713.7 1136.3,714.4 1136.7,713.4 1137.2,714.9 1137.6,716.8 1138.1,713.8 1138.5,713.8 1139.0,713.7 1139.4,715.6 1139.9,715.8 1140.3,717.0 1140.8,716.0 1141.2,715.2 1141.7,715.5 1142.1,713.0 1142.6,716.0 1143.0,715.4 1143.5,718.4 1143.9,717.1 1144.4,713.9 1144.8,714.4 1145.3,716.6 1145.7,712.2 1146.2,714.0 1146.6,716.1 1147.1,716.7 1147.5,715.7 1148.0,717.1 1148.4,714.9 1148.9,715.1 1149.3,714.6 1149.8,713.3 1150.2,714.8 1150.7,713.8 1151.1,714.7 1151.6,711.1 1152.0,715.1 1152.5,714.1 1152.9,714.1 1153.4,715.2 1153.8,714.6 1154.3,716.8 1154.7,717.1 1155.2,716.6 1155.6,716.4 1156.1,715.3 1156.5,714.6 1157.0,712.6 1157.4,714.0 1157.9,716.0 1158.3,715.0 1158.8,713.0 1159.2,713.5 1159.7,715.0 1160.1,713.3 1160.6,716.2 1161.0,712.8 1161.5,715.0 1161.9,715.0 1162.4,714.3 1162.8,714.4 1163.3,714.9 1163.7,710.7 1164.2,714.6 1164.6,715.4 1165.1,714.2 1165.5,715.0 1166.0,711.5 1166.4,713.1 1166.9,713.6 1167.3,712.7 1167.8,714.8 1168.2,713.9 1168.7,712.3 1169.1,714.4 1169.6,714.7 1170.0,712.8 1170.5,714.3 1170.9,713.9 1171.4,713.6 1171.8,711.2 1172.3,714.7 1172.7,713.8 1173.2,712.7 1173.6,712.8 1174.1,712.7 1174.5,711.9 1175.0,711.7 1175.4,713.1 1175.9,712.4 1176.3,712.8 1176.8,711.8 1177.2,713.0 1177.7,715.1 1178.1,714.1 1178.6,713.9 1179.0,713.5 1179.5,713.2 1179.9,711.3 1180.4,715.6 1180.8,712.5 1181.3,711.7 1181.7,714.5 1182.2,714.5 1182.6,713.5 1183.1,712.2 1183.5,712.2 1184.0,716.9 1184.4,714.7 1184.9,714.0 1185.3,717.6 1185.8,714.3 1186.2,713.7 1186.7,715.8 1187.1,715.2 1187.6,717.4 1188.0,712.9 1188.5,715.6 1188.9,713.0 1189.4,716.3 1189.8,714.8 1190.3,715.3 1190.7,715.2 1191.2,717.8 1191.6,718.9 1192.1,716.7 1192.5,716.7 1193.0,716.5 1193.4,718.2 1193.9,716.3 1194.3,722.9 1194.8,717.5 1195.2,720.6 1195.7,718.5 1196.1,716.1 1196.6,715.8 1197.0,717.3 1197.5,716.8 1197.9,717.3 1198.4,716.1 1198.8,721.3 1199.3,720.9 1199.7,714.9 1200.2,718.3 1200.6,719.3 1201.1,717.0 1201.5,717.3 1202.0,719.5 1202.4,718.7 1202.9,716.0 1203.3,719.5 1203.8,716.9 1204.2,720.5 1204.7,716.3 1205.1,714.2 1205.6,717.7 1206.0,719.1 1206.5,718.0 1206.9,717.7 1207.4,715.9 1207.8,718.8 1208.3,714.4 1208.7,718.5 1209.2,715.2 1209.6,716.3 1210.1,715.2 1210.5,715.7 1211.0,719.4 1211.4,715.4 1211.9,717.5 1212.3,715.9 1212.8,718.7 1213.2,715.5 1213.7,717.4 1214.1,718.6 1214.6,720.8 1215.0,715.4 1215.5,715.9 1215.9,717.0 1216.4,719.4 1216.8,715.4 1217.3,717.9 1217.7,715.8 1218.2,715.3 1218.6,714.5 1219.1,717.0 1219.5,718.3 1220.0,716.8 1220.4,713.7 1220.9,716.2 1221.3,718.7 1221.8,718.3 1222.2,717.4 1222.7,718.9 1223.1,714.7 1223.6,714.6 1224.0,720.1 1224.5,717.7 1224.9,716.2 1225.4,715.6 1225.8,712.5 1226.3,717.7 1226.7,713.6 1227.2,713.7 1227.6,716.6 1228.1,718.7 1228.5,715.7 1229.0,716.9 1229.4,715.6 1229.9,717.0 1230.3,713.7 1230.8,719.2 1231.2,714.7 1231.7,716.8 1232.1,712.9 1232.6,718.5 1233.0,716.4 1233.5,719.0 1233.9,714.9 1234.4,717.8 1234.8,715.9 1235.3,716.0 1235.7,718.3 1236.2,715.2 1236.6,717.7 1237.1,719.4 1237.5,719.0 1238.0,718.0 1238.4,716.8 1238.9,714.7 1239.3,718.4 1239.8,715.3 1240.2,718.1 1240.7,716.1 1241.1,716.5 1241.6,716.4 1242.0,717.2 1242.5,715.6 1242.9,716.6 1243.4,715.3 1243.8,716.8 1244.3,716.3 1244.7,716.3 1245.2,714.6 1245.6,716.7 1246.1,716.2 1246.5,717.0 1247.0,716.3 1247.4,715.2 1247.9,717.7 1248.3,715.6 1248.8,717.0 1249.2,713.6 1249.7,717.3 1250.1,717.6 1250.6,715.2 1251.0,717.3 1251.5,715.6 1251.9,718.3 1252.4,717.5 1252.8,714.5 1253.3,716.0 1253.7,713.3 1254.2,715.1 1254.6,716.3 1255.1,716.8 1255.5,715.6 1256.0,715.2 1256.4,715.5 1256.9,714.5 1257.3,715.4 1257.8,716.9 1258.2,715.8 1258.7,716.7 1259.1,714.1 1259.6,714.6 1260.0,715.5 1260.5,718.1 1260.9,716.3 1261.4,717.6 1261.8,715.0 1262.3,716.8 1262.7,712.6 1263.2,716.1 1263.6,711.9 1264.1,717.2 1264.5,716.0 1265.0,717.3 1265.4,716.1 1265.9,714.8 1266.3,714.5 1266.8,715.5 1267.2,717.7 1267.7,716.4 1268.1,714.8 1268.6,715.0 1269.0,714.8 1269.5,715.7 1269.9,715.7 1270.4,715.0 1270.8,716.0 1271.3,713.4 1271.7,718.1 1272.2,716.0 1272.6,717.8 1273.1,715.7 1273.5,714.7 1274.0,715.2 1274.4,715.3 1274.9,713.9 1275.3,714.5 1275.8,718.0 1276.2,716.4 1276.7,714.2 1277.1,715.5 1277.6,713.5 1278.0,717.0 1278.5,713.4 1278.9,716.3 1279.4,715.0 1279.8,715.0 1280.3,713.7 1280.7,714.8 1281.2,714.4 1281.6,714.6 1282.1,716.6 1282.5,719.7 1283.0,715.4 1283.4,717.3 1283.9,715.6 1284.3,714.7 1284.8,717.5 1285.2,716.0 1285.7,716.6 1286.1,715.0 1286.6,715.1 1287.0,713.6 1287.5,714.2 1287.9,717.5 1288.4,711.4 1288.8,715.5 1289.3,717.5 1289.7,716.5 1290.2,716.7 1290.6,714.9 1291.1,717.0 1291.5,717.1 1292.0,715.1 1292.4,717.5 1292.9,714.3 1293.3,711.2 1293.8,714.6 1294.2,714.1 1294.7,712.9 1295.1,713.4 1295.6,713.4 1296.0,711.5 1296.5,716.1 1296.9,714.2 1297.4,718.1 1297.8,714.1 1298.3,715.3 1298.7,712.5 1299.2,716.2 1299.6,713.2 1300.1,715.3 1300.5,715.8 1301.0,715.3 1301.4,713.0 1301.9,713.0 1302.3,714.8 1302.8,715.6 1303.2,715.9 1303.7,713.6 1304.1,713.6 1304.6,716.3 1305.0,713.0 1305.5,714.9 1305.9,713.3 1306.4,711.5 1306.8,711.8 1307.3,714.0 1307.7,713.6 1308.2,713.6 1308.6,712.4 1309.1,712.0 1309.5,713.2 1310.0,712.3 1310.4,710.4 1310.9,712.2 1311.3,715.6 1311.8,711.8 1312.2,714.1 1312.7,713.1 1313.1,714.3 1313.6,712.1 1314.0,711.7 1314.5,714.1 1314.9,712.2 1315.4,713.1 1315.8,712.7 1316.3,714.3 1316.7,713.1 1317.2,712.9 1317.6,711.2 1318.1,710.5 1318.5,711.6 1319.0,714.2 1319.4,713.8 1319.9,713.7 1320.3,712.8 1320.8,712.0 1321.2,715.1 1321.7,713.9 1322.1,714.7 1322.6,712.9 1323.0,713.4 1323.5,715.7 1323.9,716.0 1324.4,713.6 1324.8,715.8 1325.3,714.1 1325.7,717.5 1326.2,716.6 1326.6,718.9 1327.1,717.9 1327.5,715.0 1328.0,716.4 1328.4,715.5 1328.9,716.6 1329.3,717.6 1329.8,716.8 1330.2,717.2 1330.7,715.6 1331.1,718.8 1331.6,718.3 1332.0,719.4 1332.5,720.1 1332.9,718.4 1333.4,719.2 1333.8,717.3 1334.3,719.4 1334.7,717.9 1335.2,716.9 1335.6,717.2 1336.1,715.5 1336.5,716.9 1337.0,717.3 1337.4,718.1 1337.9,718.1 1338.3,717.4 1338.8,718.3 1339.2,715.2 1339.7,718.3 1340.1,719.1 1340.6,719.3 1341.0,719.7 1341.5,717.5 1341.9,717.7 1342.4,717.2 1342.8,717.1 1343.3,717.9 1343.7,719.8 1344.2,715.0 1344.6,716.6 1345.1,717.9 1345.5,716.3 1346.0,717.9 1346.4,714.9 1346.9,716.3 1347.3,714.4 1347.8,717.2 1348.2,715.6 1348.7,717.5 1349.1,715.8 1349.6,714.7 1350.0,715.7 1350.5,716.7 1350.9,716.4 1351.4,716.4 1351.8,716.3 1352.3,717.0 1352.7,718.4 1353.2,716.3 1353.6,717.9 1354.1,715.0 1354.5,718.5 1355.0,717.6 1355.4,716.2 1355.9,716.2 1356.3,714.1 1356.8,716.7 1357.2,716.1 1357.7,714.6 1358.1,716.0 1358.6,717.4 1359.0,716.9 1359.5,717.1 1359.9,715.9 1360.4,718.0 1360.8,716.9 1361.3,718.4 1361.7,720.5 1362.2,714.4 1362.6,716.6 1363.1,717.3 1363.5,716.2 1364.0,718.7 1364.4,716.6 1364.9,719.5 1365.3,717.9 1365.8,717.4 1366.2,716.7 1366.7,717.9 1367.1,717.3 1367.6,718.8 1368.0,717.5 1368.5,718.2 1368.9,717.3 1369.4,717.1 1369.8,714.3 1370.3,716.5 1370.7,716.9 1371.2,714.7 1371.6,714.2 1372.1,715.5 1372.5,716.4 1373.0,713.3 1373.4,716.3 1373.9,717.2 1374.3,715.6 1374.8,716.7 1375.2,717.0 1375.7,715.5 1376.1,717.5 1376.6,717.4 1377.0,714.9 1377.5,717.6 1377.9,717.8 1378.4,714.7 1378.8,717.5 1379.3,715.7 1379.7,714.5 1380.2,714.5 1380.6,714.5 1381.1,716.5 1381.5,715.1 1382.0,715.7 1382.4,714.4 1382.9,716.2 1383.3,714.5 1383.8,715.1 1384.2,717.4 1384.7,717.6 1385.1,715.9 1385.6,716.3 1386.0,716.9 1386.5,716.3 1386.9,718.1 1387.4,718.1 1387.8,715.9 1388.3,714.2 1388.7,716.0 1389.2,718.2 1389.6,718.3 1390.1,718.6 1390.5,718.1 1391.0,715.7 1391.4,717.0 1391.9,718.5 1392.3,717.3 1392.8,717.8 1393.2,714.9 1393.7,714.2 1394.1,719.0 1394.6,717.4 1395.0,717.0 1395.5,718.3 1395.9,719.3 1396.4,720.1 1396.8,712.6 1397.3,717.1 1397.7,718.4 1398.2,714.1 1398.6,714.6 1399.1,717.3 1399.5,720.3 1400.0,719.1 1400.4,721.2 1400.9,718.4 1401.3,719.4 1401.8,720.1 1402.2,718.3 1402.7,717.4 1403.1,717.7 1403.6,712.1 1404.0,717.7 1404.5,714.3 1404.9,715.9 1405.4,718.1 1405.8,717.4 1406.3,713.8 1406.7,717.6 1407.2,717.9 1407.6,717.0 1408.1,718.1 1408.5,717.8 1409.0,714.4 1409.4,716.9 1409.9,716.9 1410.3,715.7 1410.8,717.5 1411.2,716.1 1411.7,717.5 1412.1,716.2 1412.6,719.3 1413.0,721.1 1413.5,716.9 1413.9,718.0 1414.4,717.7 1414.8,718.0 1415.3,716.9 1415.7,713.4 1416.2,717.3 1416.6,716.5 1417.1,714.9 1417.5,716.2 1418.0,715.6 1418.4,717.0 1418.9,716.2 1419.3,716.5 1419.8,717.2 1420.2,717.5 1420.7,717.1 1421.1,718.9 1421.6,717.3 1422.0,715.3 1422.5,719.0 1422.9,716.8 1423.4,718.9 1423.8,714.9 1424.3,717.4 1424.7,719.2 1425.2,718.6 1425.6,717.2 1426.1,716.5 1426.5,716.5 1427.0,717.4 1427.4,716.6 1427.9,716.9 1428.3,716.5 1428.8,716.6 1429.2,718.3 1429.7,715.3 1430.1,718.4 1430.6,719.1 1431.0,716.5 1431.5,716.3 1431.9,717.7 1432.4,717.5 1432.8,718.8 1433.3,714.4 1433.7,717.2 1434.2,719.5 1434.6,717.4 1435.1,720.0 1435.5,720.6 1436.0,716.7 1436.4,720.0 1436.9,718.6 1437.3,717.7 1437.8,717.3 1438.2,717.1 1438.7,716.2 1439.1,716.8 1439.6,718.6 1440.0,719.0 1440.5,716.4 1440.9,717.6 1441.4,717.7"/>
<polyline stroke="#3CAB36" points="58.5,551.3 59.0,552.8 59.4,551.6 59.9,546.8 60.3,552.4 60.8,551.5 61.2,548.6 61.7,551.3 62.1,550.0 62.6,549.6 63.0,548.3 63.5,549.3 63.9,546.3 64.4,547.7 64.8,546.2 65.3,549.4 65.7,548.1 66.2,547.6 66.6,546.7 67.1,548.3 67.5,549.1 68.0,547.8 68.4,552.3 68.9,551.7 69.3,541.5 69.8,543.4 70.2,548.0 70.7,547.3 71.1,549.2 71.6,549.0 72.0,554.4 72.5,545.6 72.9,547.5 73.4,554.1 73.8,550.8 74.3,550.6 74.7,547.3 75.2,544.2 75.6,549.6 76.1,549.9 76.5,547.0 77.0,548.7 77.4,549.3 77.9,546.5 78.3,547.8 78.8,547.5 79.2,547.0 79.7,544.9 80.1,546.6 80.6,545.6 81.0,543.9 81.5,540.9 81.9,543.4 82.4,539.9 82.8,542.5 83.3,537.2 83.7,541.1 84.2,538.1 84.6,535.1 85.1,536.3 85.5,536.8 86.0,537.2 86.4,534.0 86.9,533.1 87.3,536.1 87.8,533.8 88.2,535.7 88.7,537.0 89.1,530.6 89.6,534.6 90.0,536.4 90.5,532.6 90.9,531.2 91.4,534.8 91.8,533.3 92.3,534.3 92.7,530.7 93.2,527.8 93.6,530.8 94.1,529.6 94.5,531.9 95.0,529.8 95.4,525.3 95.9,526.3 96.3,528.5 96.8,526.7 97.2,522.8 97.7,522.2 98.1,521.1 98.6,517.8 99.0,515.2 99.5,511.1 99.9,507.1 100.4,504.0 100.8,503.7 101.3,495.9 101.7,497.5 102.2,498.5 102.6,496.4 103.1,500.8 103.5,501.2 104.0,506.1 104.4,506.8 104.9,510.2 105.3,513.1 105.8,514.0 106.2,513.5 106.7,513.2 107.1,520.6 107.6,518.0 108.0,517.3 108.5,520.4 108.9,520.7 109.4,524.1 109.8,523.7 110.3,524.6 110.7,524.1 111.2,527.5 111.6,524.4 112.1,529.0 112.5,531.6 113.0,525.4 113.4,523.8 113.9,531.4 114.3,536.4 114.8,529.2 115.2,529.4 115.7,534.4 116.1,532.0 116.6,533.2 117.0,534.5 117.5,537.2 117.9,535.3 118.4,537.5 118.8,536.9 119.3,536.2 119.7,538.2 120.2,537.2 120.6,539.6 121.1,537.4 121.5,537.8 122.0,544.5 122.4,541.4 122.9,541.7 123.3,543.1 123.8,540.9 124.2,541.2 124.7,543.2 125.1,543.0 125.6,539.5 126.0,544.1 126.5,540.5 126.9,539.5 127.4,540.0 127.8,541.0 128.3,546.5 128.7,539.6 129.2,543.2 129.6,537.5 130.1,543.1 130.5,545.7 131.0,543.4 131.4,543.0 131.9,545.2 132.3,546.7 132.8,547.0 133.2,550.5 133.7,546.3 134.1,544.5 134.6,545.9 135.0,545.7 135.5,546.1 135.9,546.0 136.4,546.4 136.8,541.3 137.3,548.3 137.7,544.7 138.2,543.3 138.6,548.3 139.1,550.4 139.5,547.9 140.0,546.8 140.4,544.1 140.9,554.3 141.3,548.9 141.8,543.4 142.2,544.7 142.7,546.6 143.1,542.3 143.6,547.6 144.0,546.6 144.5,551.0 144.9,550.0 145.4,540.2 145.8,547.4 146.3,542.8 146.7,550.3 147.2,548.0 147.6,548.9 148.1,544.4 148.5,552.0 149.0,552.9 149.4,545.4 149.9,549.4 150.3,547.0 150.8,548.8 151.2,546.6 151.7,554.7 152.1,547.6 152.6,549.6 153.0,551.8 153.5,549.0 153.9,550.3 154.4,549.5 154.8,550.7 155.3,547.2 155.7,549.4 156.2,550.6 156.6,549.7 157.1,551.0 157.5,549.9 158.0,552.4 158.4,550.1 158.9,550.5 159.3,549.2 159.8,549.8 160.2,547.7 160.7,553.0 161.1,549.1 161.6,550.4 162.0,553.4 162.5,553.4 162.9,552.0 163.4,547.8 163.8,553.5 164.3,553.3 164.7,549.3 165.2,554.7 165.6,550.9 166.1,549.5 166.5,552.2 167.0,551.3 167.4,552.3 167.9,548.3 168.3,556.8 168.8,550.5 169.2,548.2 169.7,553.0 170.1,550.1 170.6,551.8 171.0,549.4 171.5,549.8 171.9,549.7 172.4,546.7 172.8,550.1 173.3,547.0 173.7,546.1 174.2,548.7 174.6,549.1 175.1,547.6 175.5,545.7 176.0,549.5 176.4,543.4 176.9,544.6 177.3,547.0 177.8,543.4 178.2,546.3 178.7,546.1 179.1,548.0 179.6,543.5 180.0,543.7 180.5,546.1 180.9,539.2 181.4,552.6 181.8,542.9 182.3,542.7 182.7,546.6 183.2,543.9 183.6,539.7 184.1,545.8 184.5,546.4 185.0,542.6 185.4,543.1 185.9,545.0 186.3,541.5 186.8,545.1 187.2,544.6 187.7,542.4 188.1,540.3 188.6,542.6 189.0,541.4 189.5,546.0 189.9,544.2 190.4,545.9 190.8,543.6 191.3,544.3 191.7,542.2 192.2,546.6 192.6,549.9 193.1,544.9 193.5,544.4 194.0,545.5 194.4,544.6 194.9,544.6 195.3,547.1 195.8,545.5 196.2,549.4 196.7,545.8 197.1,546.7 197.6,548.7 198.0,545.4 198.5,550.4 198.9,544.9 199.4,543.8 199.8,545.4 200.3,546.5 200.7,543.2 201.2,547.1 201.6,542.4 202.1,550.8 202.5,547.0 203.0,545.9 203.4,545.0 203.9,546.3 204.3,546.8 204.8,544.6 205.2,544.8 205.7,547.2 206.1,546.4 206.6,549.9 207.0,549.9 207.5,546.8 207.9,548.2 208.4,543.4 208.8,549.1 209.3,547.3 209.7,548.3 210.2,551.4 210.6,541.2 211.1,548.1 211.5,545.0 212.0,549.5 212.4,544.5 212.9,546.2 213.3,547.8 213.8,549.1 214.2,547.2 214.7,545.4 215.1,546.0 215.6,550.1 216.0,548.1 216.5,543.2 216.9,549.8 217.4,548.9 217.8,550.1 218.3,546.9 218.7,549.4 219.2,544.8 219.6,548.7 220.1,545.0 220.5,547.7 221.0,549.0 221.4,544.3 221.9,545.9 222.3,546.0 222.8,549.3 223.2,547.3 223.7,541.6 224.1,546.8 224.6,548.1 225.0,551.3 225.5,540.9 225.9,543.8 226.4,549.4 226.8,542.4 227.3,542.5 227.7,547.7 228.2,548.5 228.6,544.0 229.1,547.2 229.5,546.2 230.0,550.0 230.4,545.4 230.9,547.5 231.3,542.5 231.8,544.2 232.2,543.9 232.7,547.0 233.1,545.4 233.6,542.0 234.0,545.7 234.5,545.9 234.9,543.7 235.4,543.6 235.8,543.9 236.3,540.0 236.7,544.6 237.2,544.6 237.6,540.9 238.1,544.9 238.5,539.5 239.0,541.9 239.4,542.3 239.9,548.6 240.3,539.3 240.8,545.2 241.2,546.2 241.7,545.3 242.1,547.7 242.6,541.8 243.0,537.7 243.5,545.5 243.9,540.2 244.4,542.3 244.8,540.2 245.3,546.4 245.7,545.8 246.2,541.2 246.6,546.1 247.1,544.3 247.5,543.5 248.0,544.3 248.4,543.5 248.9,545.7 249.3,544.5 249.8,542.6 250.2,546.1 250.7,541.4 251.1,543.5 251.6,543.8 252.0,546.2 252.5,540.6 252.9,546.7 253.4,542.6 253.8,541.5 254.3,540.4 254.7,543.0 255.2,541.6 255.6,538.4 256.1,538.0 256.5,539.9 257.0,539.4 257.4,543.8 257.9,544.2 258.3,542.7 258.8,541.6 259.2,539.7 259.7,540.7 260.1,542.4 260.6,545.8 261.0,542.4 261.5,539.7 261.9,540.6 262.4,539.3 262.8,538.6 263.3,539.5 263.7,540.9 264.2,545.9 264.6,541.1 265.1,544.3 265.5,544.9 266.0,540.6 266.4,543.9 266.9,541.0 267.3,538.3 267.8,539.5 268.2,538.6 268.7,537.5 269.1,537.3 269.6,537.5 270.0,538.2 270.5,534.8 270.9,537.3 271.4,533.0 271.8,537.6 272.3,538.0 272.7,536.7 273.2,537.2 273.6,538.4 274.1,534.7 274.5,536.1 275.0,537.4 275.4,538.9 275.9,536.8 276.3,542.1 276.8,535.2 277.2,537.3 277.7,537.3 278.1,533.3 278.6,531.1 279.0,530.2 279.5,533.3 279.9,535.8 280.4,533.2 280.8,532.8 281.3,531.1 281.7,533.5 282.2,527.5 282.6,531.8 283.1,530.5 283.5,526.6 284.0,533.0 284.4,524.9 284.9,524.7 285.3,523.7 285.8,525.5 286.2,519.4 286.7,518.1 287.1,514.7 287.6,510.9 288.0,504.7 288.5,500.6 288.9,498.0 289.4,487.4 289.8,478.0 290.3,466.8 290.7,439.0 291.2,411.1 291.6,374.8 292.1,326.5 292.5,280.2 293.0,235.1 293.4,194.6 293.9,172.9 294.3,150.8 294.8,134.0 295.2,124.4 295.7,122.4 296.1,127.1 296.6,136.6 297.0,159.6 297.5,182.4 297.9,208.2 298.4,245.9 298.8,283.4 299.3,319.8 299.7,356.1 300.2,392.4 300.6,425.6 301.1,447.8 301.5,460.9 302.0,473.7 302.4,482.3 302.9,493.3 303.3,499.0 303.8,505.0 304.2,509.3 304.7,511.5 305.1,515.6 305.6,519.6 306.0,518.5 306.5,520.3 306.9,521.4 307.4,521.4 307.8,527.2 308.3,528.9 308.7,529.1 309.2,528.8 309.6,529.2 310.1,530.9 310.5,530.1 311.0,534.3 311.4,535.5 311.9,536.6 312.3,533.8 312.8,536.0 313.2,535.7 313.7,540.6 314.1,536.4 314.6,531.5 315.0,537.6 315.5,542.3 315.9,539.4 316.4,540.1 316.8,538.3 317.3,533.8 317.7,534.5 318.2,536.8 318.6,540.2 319.1,541.5 319.5,542.1 320.0,539.9 320.4,543.7 320.9,540.5 321.3,539.4 321.8,543.7 322.2,538.8 322.7,534.7 323.1,538.8 323.6,541.8 324.0,534.2 324.5,541.3 324.9,541.9 325.4,539.5 325.8,539.4 326.3,542.5 326.7,542.1 327.2,547.5 327.6,545.9 328.1,540.5 328.5,542.1 329.0,546.3 329.4,550.1 329.9,545.8 330.3,545.4 330.8,549.8 331.2,544.1 331.7,543.0 332.1,540.6 332.6,543.2 333.0,549.9 333.5,539.8 333.9,543.7 334.4,540.2 334.8,544.0 335.3,546.0 335.7,543.0 336.2,545.6 336.6,545.2 337.1,544.7 337.5,548.0 338.0,545.8 338.4,542.5 338.9,541.2 339.3,540.6 339.8,544.1 340.2,541.9 340.7,550.0 341.1,547.5 341.6,542.1 342.0,541.5 342.5,546.6 342.9,537.3 343.4,540.7 343.8,544.0 344.3,539.4 344.7,539.7 345.2,539.8 345.6,542.2 346.1,540.8 346.5,541.6 347.0,541.9 347.4,540.4 347.9,543.0 348.3,538.0 348.8,536.6 349.2,536.0 349.7,536.7 350.1,539.8 350.6,543.6 351.0,541.8 351.5,540.4 351.9,539.6 352.4,541.7 352.8,541.8 353.3,541.9 353.7,539.7 354.2,542.0 354.6,546.2 355.1,539.0 355.5,543.7 356.0,539.2 356.4,544.4 356.9,542.4 357.3,538.8 357.8,543.3 358.2,547.2 358.7,542.4 359.1,544.3 359.6,540.9 360.0,535.4 360.5,541.5 360.9,538.8 361.4,535.9 361.8,541.2 362.3,539.4 362.7,537.1 363.2,539.9 363.6,535.5 364.1,538.5 364.5,534.4 365.0,537.8 365.4,533.5 365.9,539.0 366.3,535.5 366.8,537.7 367.2,532.1 367.7,532.4 368.1,535.2 368.6,525.9 369.0,528.9 369.5,533.7 369.9,532.0 370.4,533.0 370.8,529.9 371.3,531.5 371.7,528.7 372.2,527.9 372.6,527.9 373.1,531.2 373.5,531.3 374.0,531.3 374.4,524.7 374.9,529.0 375.3,532.6 375.8,534.6 376.2,532.4 376.7,532.2 377.1,529.1 377.6,539.6 378.0,532.3 378.5,539.5 378.9,539.0 379.4,536.9 379.8,535.6 380.3,537.5 380.7,533.9 381.2,537.9 381.6,537.4 382.1,539.0 382.5,540.0 383.0,542.5 383.4,536.8 383.9,540.0 384.3,535.6 384.8,535.5 385.2,536.2 385.7,535.6 386.1,541.3 386.6,541.7 387.0,542.6 387.5,539.2 387.9,540.2 388.4,537.9 388.8,536.6 389.3,541.0 389.7,540.7 390.2,537.1 390.6,539.2 391.1,533.7 391.5,535.6 392.0,533.4 392.4,532.4 392.9,529.6 393.3,532.3 393.8,530.2 394.2,530.1 394.7,527.1 395.1,523.1 395.6,523.7 396.0,521.3 396.5,523.5 396.9,524.4 397.4,522.1 397.8,519.6 398.3,520.3 398.7,520.8 399.2,516.4 399.6,519.8 400.1,519.5 400.5,516.9 401.0,517.2 401.4,518.3 401.9,515.8 402.3,515.0 402.8,518.6 403.2,516.6 403.7,518.0 404.1,510.7 404.6,506.9 405.0,507.9 405.5,505.1 405.9,499.9 406.4,494.7 406.8,491.1 407.3,484.5 407.7,480.7 408.2,473.8 408.6,470.9 409.1,471.1 409.5,478.3 410.0,485.0 410.4,487.9 410.9,493.8 411.3,496.9 411.8,501.5 412.2,505.5 412.7,512.7 413.1,516.2 413.6,522.7 414.0,524.2 414.5,529.7 414.9,531.4 415.4,530.9 415.8,528.7 416.3,522.7 416.7,519.3 417.2,516.1 417.6,520.7 418.1,516.7 418.5,514.5 419.0,514.8 419.4,513.6 419.9,517.7 420.3,524.3 420.8,526.2 421.2,528.5 421.7,529.5 422.1,534.7 422.6,539.2 423.0,537.5 423.5,542.1 423.9,544.4 424.4,546.2 424.8,544.8 425.3,543.4 425.7,540.9 426.2,542.0 426.6,540.2 427.1,540.8 427.5,540.2 428.0,541.4 428.4,538.2 428.9,538.5 429.3,541.4 429.8,538.0 430.2,537.8 430.7,539.7 431.1,537.8 431.6,536.9 432.0,536.4 432.5,532.1 432.9,536.4 433.4,538.9 433.8,537.8 434.3,532.4 434.7,537.1 435.2,534.5 435.6,536.4 436.1,537.6 436.5,534.5 437.0,540.9 437.4,538.1 437.9,540.5 438.3,540.7 438.8,542.9 439.2,542.7 439.7,536.3 440.1,540.0 440.6,535.4 441.0,539.5 441.5,542.7 441.9,543.7 442.4,544.7 442.8,540.6 443.3,542.0 443.7,542.0 444.2,545.5 444.6,546.7 445.1,542.3 445.5,553.2 446.0,543.6 446.4,542.9 446.9,546.0 447.3,546.9 447.8,546.3 448.2,543.3 448.7,548.6 449.1,545.3 449.6,548.8 450.0,548.2 450.5,541.5 450.9,542.4 451.4,542.6 451.8,545.9 452.3,545.6 452.7,546.6 453.2,543.9 453.6,547.2 454.1,550.3 454.5,543.8 455.0,546.7 455.4,547.6 455.9,546.6 456.3,546.3 456.8,551.0 457.2,549.2 457.7,548.5 458.1,543.9 458.6,551.2 459.0,546.1 459.5,543.8 459.9,543.6 460.4,542.8 460.8,548.6 461.3,544.0 461.7,542.7 462.2,536.6 462.6,543.9 463.1,539.2 463.5,538.8 464.0,543.7 464.4,540.2 464.9,544.9 465.3,545.4 465.8,537.7 466.2,542.3 466.7,538.5 467.1,542.6 467.6,544.5 468.0,538.1 468.5,545.8 468.9,540.5 469.4,538.1 469.8,541.4 470.3,543.4 470.7,537.2 471.2,539.9 471.6,536.7 472.1,543.9 472.5,541.5 473.0,539.6 473.4,543.5 473.9,537.8 474.3,540.7 474.8,547.0 475.2,542.8 475.7,546.5 476.1,543.5 476.6,541.6 477.0,543.4 477.5,544.2 477.9,543.1 478.4,542.1 478.8,542.2 479.3,540.4 479.7,545.1 480.2,546.2 480.6,547.6 481.1,541.3 481.5,548.5 482.0,546.6 482.4,543.0 482.9,547.1 483.3,549.1 483.8,548.7 484.2,549.8 484.7,550.5 485.1,550.9 485.6,548.4 486.0,543.8 486.5,547.6 486.9,550.2 487.4,548.7 487.8,551.5 488.3,551.3 488.7,549.6 489.2,554.2 489.6,547.6 490.1,552.1 490.5,548.3 491.0,547.8 491.4,551.3 491.9,548.8 492.3,552.7 492.8,547.7 493.2,550.7 493.7,548.3 494.1,549.5 494.6,549.4 495.0,547.7 495.5,551.3 495.9,546.3 496.4,546.7 496.8,550.7 497.3,550.6 497.7,549.6 498.2,548.5 498.6,552.1 499.1,543.1 499.5,544.1 500.0,543.0 500.4,546.9 500.9,545.2 501.3,546.9 501.8,545.9 502.2,542.6 502.7,540.7 503.1,539.8 503.6,546.6 504.0,543.3 504.5,541.9 504.9,539.6 505.4,540.3 505.8,540.2 506.3,541.2 506.7,537.2 507.2,542.8 507.6,542.9 508.1,545.0 508.5,545.5 509.0,547.0 509.4,545.6 509.9,548.3 510.3,541.2 510.8,545.2 511.2,552.1 511.7,545.8 512.1,548.6 512.6,551.2 513.0,547.9 513.5,552.0 513.9,547.6 514.4,547.1 514.8,548.7 515.3,548.7 515.7,552.8 516.2,552.4 516.6,553.8 517.1,550.7 517.5,559.7 518.0,552.6 518.4,552.6 518.9,554.2 519.3,552.3 519.8,550.8 520.2,551.7 520.7,554.2 521.1,553.0 521.6,554.0 522.0,550.6 522.5,549.6 522.9,556.7 523.4,550.5 523.8,552.5 524.3,553.4 524.7,554.9 525.2,547.8 525.6,549.6 526.1,549.2 526.5,549.4 527.0,543.6 527.4,549.5 527.9,542.3 528.3,551.0 528.8,551.2 529.2,550.9 529.7,546.1 530.1,551.8 530.6,547.0 531.0,546.5 531.5,546.6 531.9,546.7 532.4,548.6 532.8,550.5 533.3,543.1 533.7,546.8 534.2,550.7 534.6,548.6 535.1,548.6 535.5,543.3 536.0,549.5 536.4,543.0 536.9,547.7 537.3,550.2 537.8,551.8 538.2,548.1 538.7,549.1 539.1,545.5 539.6,546.0 540.0,550.4 540.5,547.3 540.9,547.2 541.4,544.0 541.8,547.9 542.3,549.0 542.7,545.1 543.2,545.5 543.6,551.1 544.1,547.4 544.5,546.1 545.0,543.3 545.4,544.6 545.9,545.6 546.3,549.9 546.8,544.8 547.2,551.1 547.7,544.2 548.1,545.2 548.6,548.7 549.0,545.9 549.5,544.1 549.9,545.9 550.4,547.0 550.8,541.3 551.3,544.8 551.7,545.0 552.2,544.3 552.6,547.4 553.1,543.8 553.5,544.8 554.0,545.6 554.4,547.8 554.9,545.4 555.3,550.6 555.8,544.7 556.2,551.1 556.7,545.4 557.1,547.4 557.6,548.8 558.0,553.5 558.5,550.4 558.9,547.2 559.4,551.7 559.8,547.4 560.3,545.5 560.7,548.8 561.2,548.4 561.6,550.9 562.1,547.3 562.5,549.8 563.0,550.4 563.4,549.5 563.9,548.8 564.3,547.2 564.8,551.3 565.2,549.1 565.7,550.1 566.1,547.4 566.6,548.6 567.0,546.0 567.5,548.8 567.9,550.6 568.4,548.8 568.8,550.9 569.3,549.4 569.7,551.9 570.2,548.2 570.6,544.0 571.1,548.9 571.5,547.5 572.0,544.8 572.4,549.3 572.9,548.2 573.3,548.7 573.8,546.9 574.2,548.0 574.7,548.4 575.1,552.6 575.6,546.0 576.0,548.2 576.5,548.9 576.9,543.3 577.4,543.6 577.8,553.2 578.3,543.1 578.7,549.1 579.2,545.1 579.6,545.1 580.1,541.3 580.5,543.8 581.0,548.2 581.4,541.6 581.9,546.6 582.3,545.7 582.8,550.0 583.2,543.2 583.7,547.7 584.1,547.1 584.6,543.6 585.0,539.7 585.5,548.5 585.9,540.6 586.4,542.8 586.8,546.0 587.3,546.9 587.7,542.5 588.2,543.9 588.6,543.5 589.1,547.4 589.5,550.4 590.0,539.5 590.4,545.8 590.9,537.4 591.3,540.1 591.8,536.0 592.2,539.7 592.7,534.9 593.1,531.5 593.6,530.1 594.0,527.8 594.5,526.5 594.9,523.6 595.4,522.5 595.8,521.5 596.3,518.5 596.7,513.6 597.2,511.6 597.6,512.2 598.1,515.6 598.5,512.9 599.0,512.8 599.4,514.9 599.9,512.0 600.3,513.1 600.8,517.5 601.2,516.0 601.7,516.4 602.1,518.6 602.6,517.0 603.0,517.3 603.5,519.4 603.9,523.1 604.4,523.6 604.8,522.9 605.3,526.2 605.7,529.4 606.2,533.1 606.6,529.6 607.1,533.8 607.5,534.2 608.0,537.9 608.4,539.2 608.9,541.7 609.3,539.3 609.8,536.1 610.2,535.7 610.7,537.7 611.1,537.4 611.6,541.9 612.0,539.8 612.5,532.6 612.9,536.3 613.4,531.7 613.8,531.0 614.3,537.2 614.7,536.8 615.2,532.3 615.6,539.5 616.1,532.4 616.5,531.4 617.0,536.0 617.4,534.8 617.9,534.1 618.3,534.6 618.8,535.0 619.2,534.1 619.7,533.7 620.1,528.9 620.6,530.5 621.0,535.0 621.5,532.3 621.9,535.6 622.4,537.5 622.8,534.7 623.3,537.2 623.7,542.1 624.2,540.0 624.6,543.1 625.1,543.2 625.5,542.1 626.0,540.3 626.4,539.6 626.9,539.6 627.3,543.3 627.8,543.9 628.2,542.9 628.7,546.2 629.1,544.0 629.6,548.3 630.0,547.0 630.5,547.2 630.9,548.0 631.4,548.1 631.8,554.8 632.3,544.2 632.7,547.5 633.2,549.6 633.6,547.8 634.1,544.9 634.5,549.2 635.0,541.9 635.4,541.5 635.9,545.4 636.3,540.2 636.8,537.8 637.2,545.2 637.7,544.4 638.1,543.9 638.6,540.4 639.0,541.7 639.5,538.4 639.9,544.5 640.4,541.9 640.8,541.8 641.3,534.6 641.7,541.0 642.2,542.0 642.6,541.8 643.1,540.7 643.5,538.6 644.0,537.7 644.4,539.6 644.9,538.4 645.3,538.2 645.8,537.3 646.2,543.1 646.7,535.7 647.1,538.4 647.6,537.6 648.0,541.7 648.5,542.9 648.9,542.4 649.4,541.4 649.8,535.9 650.3,544.6 650.7,541.1 651.2,539.8 651.6,540.0 652.1,539.3 652.5,541.2 653.0,541.4 653.4,540.1 653.9,534.4 654.3,541.0 654.8,542.0 655.2,542.5 655.7,540.7 656.1,542.4 656.6,544.5 657.0,540.5 657.5,545.7 657.9,537.0 658.4,539.1 658.8,540.6 659.3,536.5 659.7,540.2 660.2,546.2 660.6,545.8 661.1,543.1 661.5,547.1 662.0,543.1 662.4,541.5 662.9,542.8 663.3,541.8 663.8,544.4 664.2,538.7 664.7,545.0 665.1,540.9 665.6,544.5 666.0,538.6 666.5,541.2 666.9,542.7 667.4,544.8 667.8,539.4 668.3,546.9 668.7,544.4 669.2,541.6 669.6,546.4 670.1,542.9 670.5,545.7 671.0,549.2 671.4,545.0 671.9,541.2 672.3,541.2 672.8,543.8 673.2,543.2 673.7,539.6 674.1,539.9 674.6,543.0 675.0,546.7 675.5,534.2 675.9,542.8 676.4,540.5 676.8,542.3 677.3,542.1 677.7,540.1 678.2,537.3 678.6,536.2 679.1,534.6 679.5,542.2 680.0,538.0 680.4,536.8 680.9,537.3 681.3,534.3 681.8,538.2 682.2,540.4 682.7,539.8 683.1,532.8 683.6,539.7 684.0,534.7 684.5,531.7 684.9,533.6 685.4,534.8 685.8,536.8 686.3,534.0 686.7,532.5 687.2,535.5 687.6,541.3 688.1,533.7 688.5,537.2 689.0,536.3 689.4,542.6 689.9,531.6 690.3,539.2 690.8,533.7 691.2,535.1 691.7,536.5 692.1,545.2 692.6,535.6 693.0,533.2 693.5,541.1 693.9,536.7 694.4,539.2 694.8,540.0 695.3,540.7 695.7,540.2 696.2,541.6 696.6,542.3 697.1,543.8 697.5,541.5 698.0,540.9 698.4,540.0 698.9,544.2 699.3,543.1 699.8,544.8 700.2,545.2 700.7,548.2 701.1,544.9 701.6,546.1 702.0,541.4 702.5,541.8 702.9,543.9 703.4,541.8 703.8,546.9 704.3,541.6 704.7,545.1 705.2,538.3 705.6,542.0 706.1,543.9 706.5,544.8 707.0,540.9 707.4,545.9 707.9,547.6 708.3,546.6 708.8,543.3 709.2,543.5 709.7,542.0 710.1,546.6 710.6,547.9 711.0,542.6 711.5,539.4 711.9,544.4 712.4,545.4 712.8,535.6 713.3,543.3 713.7,548.2 714.2,544.7 714.6,543.8 715.1,543.6 715.5,545.3 716.0,540.6 716.4,541.2 716.9,544.7 717.3,541.6 717.8,544.2 718.2,538.7 718.7,545.8 719.1,545.8 719.6,544.5 720.0,544.7 720.5,548.6 720.9,542.1 721.4,542.7 721.8,542.1 722.3,543.3 722.7,542.2 723.2,544.9 723.6,542.7 724.1,540.1 724.5,539.6 725.0,546.5 725.4,542.8 725.9,542.5 726.3,543.4 726.8,543.0 727.2,545.3 727.7,544.6 728.1,542.4 728.6,542.3 729.0,542.1 729.5,542.1 729.9,549.2 730.4,543.4 730.8,540.7 731.3,544.2 731.7,544.8 732.2,547.4 732.6,543.9 733.1,546.5 733.5,545.6 734.0,547.7 734.4,549.5 734.9,550.9 735.3,546.9 735.8,540.4 736.2,541.9 736.7,543.3 737.1,547.8 737.6,544.4 738.0,545.4 738.5,541.6 738.9,542.7 739.4,542.5 739.8,539.4 740.3,542.0 740.7,542.0 741.2,538.3 741.6,540.3 742.1,541.4 742.5,537.2 743.0,536.8 743.4,536.1 743.9,535.0 744.3,536.8 744.8,535.2 745.2,534.9 745.7,533.6 746.1,531.6 746.6,532.6 747.0,535.2 747.5,530.3 747.9,531.4 748.4,535.0 748.8,532.6 749.3,528.2 749.7,529.2 750.2,522.7 750.6,518.5 751.1,510.3 751.5,502.9 752.0,494.6 752.4,484.0 752.9,476.5 753.3,466.0 753.8,457.7 754.2,449.0 754.7,441.8 755.1,434.9 755.6,429.6 756.0,426.8 756.5,429.7 756.9,428.7 757.4,429.5 757.8,430.0 758.3,425.9 758.7,432.1 759.2,433.1 759.6,430.8 760.1,435.2 760.5,437.0 761.0,433.2 761.4,431.8 761.9,434.4 762.3,442.0 762.8,436.6 763.2,433.9 763.7,436.3 764.1,434.6 764.6,437.2 765.0,445.9 765.5,450.2 765.9,456.2 766.4,460.6 766.8,461.7 767.3,464.4 767.7,470.2 768.2,472.2 768.6,476.8 769.1,481.2 769.5,487.2 770.0,492.3 770.4,496.2 770.9,501.5 771.3,506.5 771.8,510.6 772.2,514.0 772.7,519.2 773.1,525.3 773.6,523.9 774.0,527.5 774.5,529.8 774.9,532.1 775.4,531.1 775.8,530.0 776.3,539.3 776.7,534.6 777.2,530.3 777.6,532.1 778.1,533.4 778.5,530.5 779.0,532.5 779.4,529.1 779.9,529.9 780.3,530.4 780.8,529.6 781.2,524.6 781.7,530.8 782.1,531.8 782.6,532.5 783.0,529.2 783.5,533.0 783.9,532.7 784.4,527.9 784.8,526.4 785.3,531.3 785.7,527.8 786.2,531.1 786.6,533.0 787.1,526.4 787.5,527.4 788.0,531.0 788.4,534.7 788.9,534.1 789.3,540.1 789.8,540.8 790.2,540.7 790.7,538.3 791.1,541.6 791.6,542.2 792.0,537.7 792.5,545.1 792.9,540.0 793.4,542.6 793.8,540.7 794.3,543.3 794.7,545.3 795.2,541.5 795.6,540.1 796.1,543.2 796.5,541.2 797.0,542.6 797.4,543.9 797.9,543.9 798.3,547.2 798.8,541.3 799.2,544.7 799.7,542.7 800.1,547.4 800.6,550.5 801.0,544.7 801.5,547.9 801.9,542.2 802.4,539.5 802.8,540.4 803.3,539.3 803.7,540.5 804.2,542.4 804.6,545.6 805.1,543.9 805.5,543.2 806.0,540.8 806.4,539.5 806.9,541.2 807.3,541.6 807.8,541.6 808.2,541.5 808.7,540.4 809.1,535.9 809.6,537.5 810.0,537.7 810.5,544.4 810.9,538.5 811.4,541.6 811.8,544.2 812.3,541.1 812.7,539.0 813.2,539.1 813.6,537.3 814.1,540.7 814.5,543.1 815.0,542.3 815.4,542.9 815.9,542.5 816.3,546.0 816.8,539.1 817.2,541.8 817.7,543.3 818.1,545.2 818.6,535.5 819.0,540.2 819.5,540.5 819.9,538.1 820.4,543.2 820.8,541.4 821.3,539.4 821.7,536.6 822.2,537.3 822.6,538.0 823.1,541.7 823.5,537.7 824.0,535.5 824.4,536.8 824.9,539.3 825.3,545.6 825.8,547.6 826.2,540.0 826.7,543.8 827.1,545.1 827.6,544.7 828.0,541.2 828.5,538.4 828.9,540.4 829.4,536.3 829.8,542.2 830.3,543.4 830.7,536.7 831.2,542.3 831.6,543.1 832.1,545.7 832.5,546.3 833.0,545.2 833.4,541.3 833.9,542.0 834.3,546.2 834.8,542.1 835.2,543.5 835.7,547.9 836.1,544.7 836.6,541.3 837.0,544.3 837.5,547.6 837.9,546.0 838.4,549.6 838.8,550.0 839.3,545.4 839.7,546.2 840.2,547.3 840.6,544.7 841.1,548.6 841.5,547.1 842.0,549.4 842.4,546.1 842.9,545.7 843.3,552.6 843.8,546.0 844.2,546.8 844.7,546.2 845.1,547.5 845.6,546.6 846.0,549.2 846.5,547.8 846.9,548.7 847.4,550.9 847.8,551.9 848.3,550.9 848.7,547.6 849.2,550.6 849.6,548.8 850.1,548.7 850.5,544.7 851.0,550.5 851.4,548.3 851.9,552.9 852.3,550.2 852.8,545.7 853.2,545.0 853.7,551.5 854.1,545.9 854.6,549.6 855.0,547.0 855.5,552.9 855.9,547.9 856.4,551.4 856.8,550.9 857.3,545.9 857.7,545.5 858.2,549.9 858.6,545.8 859.1,543.7 859.5,549.2 860.0,552.5 860.4,545.7 860.9,549.2 861.3,545.1 861.8,549.4 862.2,545.2 862.7,549.3 863.1,546.7 863.6,544.9 864.0,545.7 864.5,543.6 864.9,542.3 865.4,542.3 865.8,545.0 866.3,542.4 866.7,546.9 867.2,547.2 867.6,546.7 868.1,544.2 868.5,545.7 869.0,545.3 869.4,548.8 869.9,543.2 870.3,543.9 870.8,543.6 871.2,543.7 871.7,542.0 872.1,542.6 872.6,547.0 873.0,542.6 873.5,546.5 873.9,549.5 874.4,548.2 874.8,540.8 875.3,547.3 875.7,546.8 876.2,546.6 876.6,540.5 877.1,546.8 877.5,542.2 878.0,548.0 878.4,547.1 878.9,550.4 879.3,542.9 879.8,539.6 880.2,546.2 880.7,546.1 881.1,542.8 881.6,547.6 882.0,545.9 882.5,540.8 882.9,543.1 883.4,543.3 883.8,545.1 884.3,546.0 884.7,543.6 885.2,545.4 885.6,547.5 886.1,546.4 886.5,546.3 887.0,546.7 887.4,547.3 887.9,541.6 888.3,547.4 888.8,544.4 889.2,547.2 889.7,542.5 890.1,548.1 890.6,546.3 891.0,542.2 891.5,546.8 891.9,544.3 892.4,551.2 892.8,547.7 893.3,544.8 893.7,547.6 894.2,547.8 894.6,551.1 895.1,548.6 895.5,548.5 896.0,544.7 896.4,549.6 896.9,553.3 897.3,549.2 897.8,548.1 898.2,548.5 898.7,546.0 899.1,549.3 899.6,545.8 900.0,548.6 900.5,547.4 900.9,546.5 901.4,549.9 901.8,544.4 902.3,547.8 902.7,544.3 903.2,552.8 903.6,553.3 904.1,549.8 904.5,552.9 905.0,549.1 905.4,549.1 905.9,546.4 906.3,545.4 906.8,547.8 907.2,545.8 907.7,545.8 908.1,549.4 908.6,546.7 909.0,542.9 909.5,546.1 909.9,544.5 910.4,545.8 910.8,544.0 911.3,549.9 911.7,552.1 912.2,543.9 912.6,548.4 913.1,548.2 913.5,544.3 914.0,547.8 914.4,550.7 914.9,548.7 915.3,551.2 915.8,543.6 916.2,544.8 916.7,546.9 917.1,546.4 917.6,544.7 918.0,543.1 918.5,542.2 918.9,541.0 919.4,541.9 919.8,534.3 920.3,541.9 920.7,536.8 921.2,533.5 921.6,536.2 922.1,530.9 922.5,533.5 923.0,531.0 923.4,532.2 923.9,532.0 924.3,533.6 924.8,530.8 925.2,532.4 925.7,533.9 926.1,532.0 926.6,537.0 927.0,537.1 927.5,534.8 927.9,540.8 928.4,542.2 928.8,536.7 929.3,541.6 929.7,544.5 930.2,544.5 930.6,540.1 931.1,539.1 931.5,542.7 932.0,542.4 932.4,543.4 932.9,543.7 933.3,545.0 933.8,542.0 934.2,543.7 934.7,551.5 935.1,544.5 935.6,546.6 936.0,545.8 936.5,545.9 936.9,543.5 937.4,548.1 937.8,547.1 938.3,549.3 938.7,553.0 939.2,548.3 939.6,549.8 940.1,545.3 940.5,548.5 941.0,552.2 941.4,547.7 941.9,546.0 942.3,547.9 942.8,546.8 943.2,546.0 943.7,545.2 944.1,550.2 944.6,543.2 945.0,544.2 945.5,543.8 945.9,547.8 946.4,543.6 946.8,546.6 947.3,543.6 947.7,542.8 948.2,538.8 948.6,544.6 949.1,542.1 949.5,540.9 950.0,539.1 950.4,538.5 950.9,536.8 951.3,542.9 951.8,541.6 952.2,540.4 952.7,539.7 953.1,541.8 953.6,542.3 954.0,547.1 954.5,545.3 954.9,541.9 955.4,540.7 955.8,543.0 956.3,541.3 956.7,543.8 957.2,544.1 957.6,543.7 958.1,542.8 958.5,541.3 959.0,543.0 959.4,539.0 959.9,540.7 960.3,541.2 960.8,538.3 961.2,534.0 961.7,532.7 962.1,530.0 962.6,534.5 963.0,526.9 963.5,527.6 963.9,529.5 964.4,526.9 964.8,526.0 965.3,521.0 965.7,521.7 966.2,524.4 966.6,516.9 967.1,516.6 967.5,514.1 968.0,513.2 968.4,512.5 968.9,513.2 969.3,508.0 969.8,505.7 970.2,507.7 970.7,506.9 971.1,508.6 971.6,507.3 972.0,504.1 972.5,507.5 972.9,509.1 973.4,507.7 973.8,506.6 974.3,508.2 974.7,503.9 975.2,499.1 975.6,502.1 976.1,495.7 976.5,494.9 977.0,492.9 977.4,490.2 977.9,486.4 978.3,481.5 978.8,480.4 979.2,476.4 979.7,473.0 980.1,471.2 980.6,471.4 981.0,471.8 981.5,472.5 981.9,469.0 982.4,463.9 982.8,467.7 983.3,466.9 983.7,467.9 984.2,467.9 984.6,468.0 985.1,472.4 985.5,473.4 986.0,472.0 986.4,476.7 986.9,477.6 987.3,479.7 987.8,489.7 988.2,498.2 988.7,502.3 989.1,506.3 989.6,507.2 990.0,512.3 990.5,515.9 990.9,517.9 991.4,523.1 991.8,526.7 992.3,528.7 992.7,529.7 993.2,532.1 993.6,533.5 994.1,529.9 994.5,533.0 995.0,535.6 995.4,533.8 995.9,532.8 996.3,533.5 996.8,535.3 997.2,533.9 997.7,541.6 998.1,535.9 998.6,538.3 999.0,537.5 999.5,539.0 999.9,536.6 1000.4,534.7 1000.8,542.5 1001.3,539.1 1001.7,540.2 1002.2,540.3 1002.6,543.5 1003.1,542.9 1003.5,544.3 1004.0,543.6 1004.4,541.7 1004.9,541.5 1005.3,539.0 1005.8,535.6 1006.2,540.3 1006.7,538.6 1007.1,548.0 1007.6,545.5 1008.0,544.9 1008.5,540.8 1008.9,547.9 1009.4,538.2 1009.8,540.1 1010.3,541.6 1010.7,541.2 1011.2,544.7 1011.6,544.5 1012.1,549.0 1012.5,547.0 1013.0,547.7 1013.4,545.7 1013.9,543.7 1014.3,542.4 1014.8,539.5 1015.2,540.8 1015.7,542.4 1016.1,545.4 1016.6,538.3 1017.0,539.0 1017.5,543.5 1017.9,540.7 1018.4,544.3 1018.8,542.6 1019.3,542.2 1019.7,541.1 1020.2,544.6 1020.6,543.4 1021.1,543.6 1021.5,542.9 1022.0,545.4 1022.4,545.2 1022.9,540.7 1023.3,544.3 1023.8,545.7 1024.2,547.3 1024.7,546.8 1025.1,545.8 1025.6,542.6 1026.0,543.6 1026.5,548.2 1026.9,544.2 1027.4,548.7 1027.8,549.3 1028.3,543.7 1028.7,547.4 1029.2,546.5 1029.6,552.5 1030.1,549.7 1030.5,546.1 1031.0,548.5 1031.4,545.2 1031.9,546.4 1032.3,546.2 1032.8,545.7 1033.2,545.7 1033.7,542.4 1034.1,539.2 1034.6,542.1 1035.0,540.7 1035.5,540.6 1035.9,547.4 1036.4,545.3 1036.8,541.6 1037.3,538.2 1037.7,537.9 1038.2,541.1 1038.6,542.1 1039.1,538.2 1039.5,538.2 1040.0,537.4 1040.4,537.9 1040.9,531.1 1041.3,534.3 1041.8,534.1 1042.2,534.7 1042.7,532.6 1043.1,529.0 1043.6,529.2 1044.0,526.2 1044.5,528.8 1044.9,528.9 1045.4,530.2 1045.8,528.0 1046.3,528.5 1046.7,534.5 1047.2,532.1 1047.6,536.3 1048.1,533.9 1048.5,531.0 1049.0,536.8 1049.4,538.6 1049.9,535.4 1050.3,533.2 1050.8,539.6 1051.2,538.7 1051.7,540.6 1052.1,535.1 1052.6,542.8 1053.0,536.3 1053.5,540.7 1053.9,545.5 1054.4,538.7 1054.8,539.5 1055.3,543.0 1055.7,548.0 1056.2,548.1 1056.6,543.0 1057.1,546.7 1057.5,546.2 1058.0,545.6 1058.4,546.0 1058.9,543.4 1059.3,548.0 1059.8,548.8 1060.2,553.3 1060.7,549.0 1061.1,541.1 1061.6,544.4 1062.0,548.5 1062.5,548.1 1062.9,543.2 1063.4,547.1 1063.8,546.8 1064.3,548.0 1064.7,548.0 1065.2,550.8 1065.6,552.1 1066.1,550.1 1066.5,545.0 1067.0,545.9 1067.4,546.8 1067.9,548.5 1068.3,546.8 1068.8,547.2 1069.2,545.8 1069.7,550.4 1070.1,550.1 1070.6,550.5 1071.0,547.5 1071.5,548.8 1071.9,544.7 1072.4,544.9 1072.8,545.9 1073.3,548.9 1073.7,547.5 1074.2,544.8 1074.6,548.1 1075.1,549.3 1075.5,548.6 1076.0,546.6 1076.4,548.5 1076.9,547.1 1077.3,547.4 1077.8,547.6 1078.2,550.1 1078.7,552.7 1079.1,551.6 1079.6,549.0 1080.0,546.0 1080.5,546.2 1080.9,546.6 1081.4,550.6 1081.8,540.4 1082.3,548.7 1082.7,542.5 1083.2,547.9 1083.6,551.6 1084.1,545.5 1084.5,541.5 1085.0,550.9 1085.4,551.4 1085.9,548.2 1086.3,550.1 1086.8,545.1 1087.2,550.8 1087.7,552.5 1088.1,549.7 1088.6,549.2 1089.0,552.4 1089.5,552.1 1089.9,547.6 1090.4,553.5 1090.8,551.2 1091.3,549.4 1091.7,552.4 1092.2,551.2 1092.6,550.4 1093.1,546.7 1093.5,550.4 1094.0,545.0 1094.4,547.5 1094.9,543.7 1095.3,544.1 1095.8,549.4 1096.2,548.1 1096.7,548.5 1097.1,550.0 1097.6,549.1 1098.0,545.8 1098.5,547.9 1098.9,547.7 1099.4,546.0 1099.8,547.0 1100.3,546.4 1100.7,545.7 1101.2,545.9 1101.6,547.1 1102.1,552.0 1102.5,544.4 1103.0,547.3 1103.4,542.0 1103.9,549.9 1104.3,544.8 1104.8,545.6 1105.2,549.2 1105.7,548.6 1106.1,542.2 1106.6,547.6 1107.0,545.8 1107.5,548.4 1107.9,547.1 1108.4,548.2 1108.8,547.2 1109.3,545.4 1109.7,549.1 1110.2,541.4 1110.6,544.2 1111.1,542.7 1111.5,544.5 1112.0,543.7 1112.4,544.7 1112.9,543.7 1113.3,543.9 1113.8,540.5 1114.2,544.9 1114.7,545.2 1115.1,543.0 1115.6,543.0 1116.0,542.8 1116.5,548.5 1116.9,544.0 1117.4,543.7 1117.8,541.7 1118.3,541.4 1118.7,540.8 1119.2,546.7 1119.6,538.1 1120.1,543.6 1120.5,542.8 1121.0,542.3 1121.4,539.3 1121.9,540.3 1122.3,545.5 1122.8,540.6 1123.2,544.6 1123.7,544.0 1124.1,543.8 1124.6,544.2 1125.0,539.1 1125.5,541.0 1125.9,543.5 1126.4,538.5 1126.8,546.3 1127.3,540.1 1127.7,541.2 1128.2,538.3 1128.6,541.8 1129.1,539.0 1129.5,540.6 1130.0,538.3 1130.4,544.4 1130.9,537.1 1131.3,542.6 1131.8,542.2 1132.2,542.4 1132.7,538.4 1133.1,543.6 1133.6,542.5 1134.0,540.1 1134.5,540.1 1134.9,539.0 1135.4,541.4 1135.8,537.3 1136.3,541.5 1136.7,541.5 1137.2,536.9 1137.6,533.9 1138.1,540.7 1138.5,540.7 1139.0,544.6 1139.4,541.6 1139.9,540.5 1140.3,538.0 1140.8,541.2 1141.2,540.1 1141.7,539.0 1142.1,541.4 1142.6,544.7 1143.0,542.2 1143.5,539.4 1143.9,543.2 1144.4,539.9 1144.8,538.4 1145.3,544.0 1145.7,541.5 1146.2,546.3 1146.6,544.7 1147.1,541.6 1147.5,544.5 1148.0,547.7 1148.4,544.4 1148.9,542.8 1149.3,543.6 1149.8,543.9 1150.2,542.6 1150.7,541.9 1151.1,547.0 1151.6,548.7 1152.0,544.9 1152.5,547.5 1152.9,547.8 1153.4,550.1 1153.8,544.8 1154.3,544.7 1154.7,546.8 1155.2,545.5 1155.6,546.0 1156.1,548.0 1156.5,543.8 1157.0,545.4 1157.4,542.3 1157.9,544.3 1158.3,542.6 1158.8,542.4 1159.2,544.0 1159.7,543.1 1160.1,545.5 1160.6,546.2 1161.0,539.9 1161.5,546.3 1161.9,538.1 1162.4,544.1 1162.8,545.2 1163.3,541.5 1163.7,542.9 1164.2,541.2 1164.6,545.5 1165.1,535.3 1165.5,539.9 1166.0,536.8 1166.4,542.2 1166.9,544.4 1167.3,543.8 1167.8,542.1 1168.2,540.9 1168.7,538.2 1169.1,542.9 1169.6,540.9 1170.0,536.8 1170.5,536.0 1170.9,538.6 1171.4,543.0 1171.8,543.8 1172.3,544.7 1172.7,538.1 1173.2,539.6 1173.6,544.7 1174.1,542.0 1174.5,543.8 1175.0,538.3 1175.4,541.5 1175.9,542.1 1176.3,541.3 1176.8,541.9 1177.2,538.9 1177.7,547.5 1178.1,544.5 1178.6,540.7 1179.0,547.3 1179.5,544.2 1179.9,546.6 1180.4,544.9 1180.8,543.6 1181.3,543.6 1181.7,546.8 1182.2,547.8 1182.6,547.4 1183.1,547.9 1183.5,549.9 1184.0,547.7 1184.4,549.9 1184.9,550.6 1185.3,549.1 1185.8,547.4 1186.2,546.9 1186.7,544.8 1187.1,544.5 1187.6,551.8 1188.0,548.7 1188.5,547.0 1188.9,552.2 1189.4,551.3 1189.8,550.1 1190.3,552.5 1190.7,550.0 1191.2,551.6 1191.6,555.4 1192.1,553.4 1192.5,550.9 1193.0,553.6 1193.4,554.8 1193.9,551.2 1194.3,550.2 1194.8,555.8 1195.2,549.9 1195.7,547.0 1196.1,551.2 1196.6,556.5 1197.0,552.6 1197.5,553.4 1197.9,545.2 1198.4,549.4 1198.8,554.4 1199.3,550.2 1199.7,554.8 1200.2,552.9 1200.6,552.5 1201.1,555.4 1201.5,549.4 1202.0,549.0 1202.4,550.4 1202.9,550.4 1203.3,544.9 1203.8,552.2 1204.2,549.2 1204.7,547.9 1205.1,549.8 1205.6,547.3 1206.0,551.8 1206.5,549.1 1206.9,551.2 1207.4,547.4 1207.8,549.7 1208.3,550.8 1208.7,547.7 1209.2,548.6 1209.6,550.7 1210.1,553.9 1210.5,553.0 1211.0,553.5 1211.4,551.9 1211.9,553.2 1212.3,555.4 1212.8,551.7 1213.2,552.5 1213.7,552.4 1214.1,545.8 1214.6,551.1 1215.0,552.3 1215.5,553.3 1215.9,550.8 1216.4,554.3 1216.8,549.9 1217.3,551.1 1217.7,556.4 1218.2,548.4 1218.6,551.2 1219.1,550.9 1219.5,551.1 1220.0,549.6 1220.4,552.9 1220.9,548.5 1221.3,548.0 1221.8,553.0 1222.2,548.5 1222.7,552.6 1223.1,551.6 1223.6,549.5 1224.0,550.5 1224.5,550.9 1224.9,552.2 1225.4,549.2 1225.8,550.2 1226.3,546.8 1226.7,549.6 1227.2,545.4 1227.6,550.2 1228.1,548.5 1228.5,554.8 1229.0,552.5 1229.4,548.9 1229.9,550.9 1230.3,548.9 1230.8,544.9 1231.2,541.3 1231.7,550.2 1232.1,548.7 1232.6,542.5 1233.0,548.6 1233.5,549.3 1233.9,544.9 1234.4,548.8 1234.8,542.5 1235.3,546.1 1235.7,546.4 1236.2,548.1 1236.6,547.2 1237.1,546.7 1237.5,547.3 1238.0,544.6 1238.4,549.9 1238.9,544.4 1239.3,546.8 1239.8,544.6 1240.2,543.7 1240.7,545.8 1241.1,545.1 1241.6,547.5 1242.0,546.8 1242.5,542.5 1242.9,545.6 1243.4,544.5 1243.8,541.8 1244.3,540.9 1244.7,544.1 1245.2,542.4 1245.6,540.0 1246.1,543.3 1246.5,544.2 1247.0,543.7 1247.4,540.3 1247.9,542.3 1248.3,547.3 1248.8,541.8 1249.2,542.7 1249.7,549.0 1250.1,543.7 1250.6,541.2 1251.0,537.5 1251.5,543.1 1251.9,538.9 1252.4,542.8 1252.8,540.9 1253.3,539.2 1253.7,547.9 1254.2,543.3 1254.6,546.0 1255.1,546.1 1255.5,543.2 1256.0,545.1 1256.4,543.8 1256.9,546.6 1257.3,545.5 1257.8,544.0 1258.2,549.1 1258.7,546.4 1259.1,546.6 1259.6,543.3 1260.0,547.0 1260.5,543.2 1260.9,549.0 1261.4,545.8 1261.8,548.8 1262.3,548.5 1262.7,550.4 1263.2,550.5 1263.6,549.7 1264.1,549.2 1264.5,545.7 1265.0,544.9 1265.4,552.8 1265.9,551.3 1266.3,546.3 1266.8,554.9 1267.2,548.9 1267.7,552.8 1268.1,552.6 1268.6,551.5 1269.0,552.5 1269.5,547.5 1269.9,550.9 1270.4,549.9 1270.8,550.5 1271.3,549.2 1271.7,548.1 1272.2,547.4 1272.6,551.5 1273.1,546.6 1273.5,549.6 1274.0,549.3 1274.4,548.0 1274.9,549.2 1275.3,549.6 1275.8,547.0 1276.2,549.6 1276.7,553.1 1277.1,545.9 1277.6,547.1 1278.0,545.5 1278.5,552.5 1278.9,543.1 1279.4,546.4 1279.8,548.2 1280.3,543.2 1280.7,544.5 1281.2,542.4 1281.6,541.0 1282.1,544.2 1282.5,545.2 1283.0,542.7 1283.4,544.1 1283.9,545.2 1284.3,546.4 1284.8,541.2 1285.2,546.2 1285.7,543.2 1286.1,540.0 1286.6,543.4 1287.0,547.6 1287.5,546.9 1287.9,543.7 1288.4,551.0 1288.8,548.0 1289.3,547.1 1289.7,545.7 1290.2,548.7 1290.6,546.6 1291.1,550.6 1291.5,549.0 1292.0,550.2 1292.4,548.3 1292.9,545.3 1293.3,550.7 1293.8,547.4 1294.2,549.7 1294.7,550.1 1295.1,547.9 1295.6,551.5 1296.0,545.5 1296.5,552.3 1296.9,547.0 1297.4,550.4 1297.8,551.1 1298.3,545.4 1298.7,545.4 1299.2,549.5 1299.6,547.2 1300.1,547.3 1300.5,542.2 1301.0,542.3 1301.4,547.9 1301.9,549.6 1302.3,543.8 1302.8,543.2 1303.2,545.8 1303.7,546.2 1304.1,545.9 1304.6,543.5 1305.0,539.4 1305.5,547.8 1305.9,542.8 1306.4,547.2 1306.8,538.8 1307.3,544.1 1307.7,542.0 1308.2,539.5 1308.6,544.1 1309.1,544.5 1309.5,539.3 1310.0,541.9 1310.4,537.4 1310.9,539.2 1311.3,540.3 1311.8,540.1 1312.2,542.9 1312.7,538.2 1313.1,543.7 1313.6,543.4 1314.0,540.6 1314.5,538.2 1314.9,534.5 1315.4,540.1 1315.8,537.7 1316.3,539.5 1316.7,536.4 1317.2,538.9 1317.6,539.2 1318.1,539.3 1318.5,539.5 1319.0,539.7 1319.4,541.8 1319.9,538.0 1320.3,541.9 1320.8,541.1 1321.2,540.2 1321.7,538.6 1322.1,544.9 1322.6,542.4 1323.0,540.9 1323.5,542.4 1323.9,542.4 1324.4,541.4 1324.8,539.6 1325.3,543.5 1325.7,542.7 1326.2,542.3 1326.6,545.9 1327.1,540.8 1327.5,542.3 1328.0,545.2 1328.4,547.2 1328.9,547.0 1329.3,547.6 1329.8,541.0 1330.2,547.8 1330.7,547.9 1331.1,548.5 1331.6,545.0 1332.0,548.7 1332.5,550.4 1332.9,552.2 1333.4,549.1 1333.8,545.3 1334.3,549.1 1334.7,550.7 1335.2,550.5 1335.6,554.2 1336.1,548.6 1336.5,546.2 1337.0,547.1 1337.4,550.4 1337.9,546.6 1338.3,545.5 1338.8,545.6 1339.2,550.3 1339.7,547.5 1340.1,546.2 1340.6,549.0 1341.0,548.4 1341.5,543.8 1341.9,547.8 1342.4,546.2 1342.8,540.0 1343.3,542.1 1343.7,545.3 1344.2,545.2 1344.6,543.0 1345.1,540.8 1345.5,543.8 1346.0,538.8 1346.4,545.1 1346.9,543.3 1347.3,543.8 1347.8,542.5 1348.2,546.8 1348.7,539.2 1349.1,543.4 1349.6,547.7 1350.0,545.0 1350.5,550.4 1350.9,548.3 1351.4,545.2 1351.8,550.6 1352.3,547.7 1352.7,549.7 1353.2,546.6 1353.6,546.6 1354.1,549.9 1354.5,548.6 1355.0,546.4 1355.4,546.2 1355.9,550.2 1356.3,553.0 1356.8,546.8 1357.2,550.8 1357.7,542.0 1358.1,545.8 1358.6,551.4 1359.0,553.6 1359.5,550.2 1359.9,551.4 1360.4,550.8 1360.8,552.7 1361.3,547.4 1361.7,551.7 1362.2,549.1 1362.6,549.0 1363.1,549.5 1363.5,548.7 1364.0,547.4 1364.4,548.2 1364.9,546.5 1365.3,552.4 1365.8,550.4 1366.2,547.5 1366.7,552.4 1367.1,552.0 1367.6,549.6 1368.0,546.6 1368.5,548.8 1368.9,548.9 1369.4,550.4 1369.8,546.2 1370.3,544.6 1370.7,551.5 1371.2,548.7 1371.6,546.5 1372.1,543.4 1372.5,546.7 1373.0,548.6 1373.4,547.5 1373.9,547.5 1374.3,545.5 1374.8,548.0 1375.2,543.5 1375.7,543.5 1376.1,543.8 1376.6,543.9 1377.0,550.8 1377.5,541.6 1377.9,546.4 1378.4,543.6 1378.8,543.1 1379.3,546.5 1379.7,542.8 1380.2,546.1 1380.6,551.9 1381.1,545.6 1381.5,547.1 1382.0,543.8 1382.4,547.2 1382.9,542.7 1383.3,547.2 1383.8,546.5 1384.2,552.7 1384.7,547.1 1385.1,546.5 1385.6,546.4 1386.0,544.5 1386.5,549.8 1386.9,551.2 1387.4,546.5 1387.8,549.2 1388.3,546.3 1388.7,548.4 1389.2,548.6 1389.6,543.9 1390.1,546.2 1390.5,550.7 1391.0,543.7 1391.4,548.7 1391.9,548.0 1392.3,546.9 1392.8,549.5 1393.2,550.4 1393.7,551.1 1394.1,543.1 1394.6,554.2 1395.0,548.7 1395.5,553.1 1395.9,550.0 1396.4,548.7 1396.8,550.3 1397.3,558.7 1397.7,554.7 1398.2,549.6 1398.6,551.4 1399.1,553.9 1399.5,552.5 1400.0,552.0 1400.4,551.0 1400.9,548.7 1401.3,553.6 1401.8,554.4 1402.2,556.9 1402.7,549.8 1403.1,552.7 1403.6,551.0 1404.0,553.7 1404.5,550.9 1404.9,549.4 1405.4,546.7 1405.8,553.1 1406.3,551.9 1406.7,554.2 1407.2,550.1 1407.6,558.3 1408.1,549.9 1408.5,552.3 1409.0,551.9 1409.4,553.5 1409.9,550.5 1410.3,548.9 1410.8,549.2 1411.2,553.9 1411.7,552.3 1412.1,552.9 1412.6,550.1 1413.0,552.9 1413.5,553.5 1413.9,553.8 1414.4,548.2 1414.8,549.6 1415.3,556.2 1415.7,550.2 1416.2,551.0 1416.6,550.3 1417.1,547.6 1417.5,548.9 1418.0,553.7 1418.4,550.7 1418.9,558.2 1419.3,548.8 1419.8,547.5 1420.2,551.9 1420.7,549.9 1421.1,556.7 1421.6,551.6 1422.0,554.0 1422.5,548.9 1422.9,554.8 1423.4,554.8 1423.8,556.7 1424.3,554.2 1424.7,554.7 1425.2,553.9 1425.6,556.2 1426.1,552.4 1426.5,555.3 1427.0,552.6 1427.4,556.4 1427.9,553.6 1428.3,552.1 1428.8,552.1 1429.2,557.1 1429.7,548.9 1430.1,549.0 1430.6,554.0 1431.0,548.8 1431.5,549.5 1431.9,549.0 1432.4,556.0 1432.8,548.4 1433.3,548.4 1433.7,549.1 1434.2,550.4 1434.6,550.9 1435.1,546.0 1435.5,550.9 1436.0,554.3 1436.4,544.7 1436.9,550.1 1437.3,550.1 1437.8,548.4 1438.2,547.2 1438.7,541.1 1439.1,549.8 1439.6,545.1 1440.0,545.5 1440.5,548.6 1440.9,539.7 1441.4,545.3"/>
</g>
<g stroke="#FF0000" stroke-width="3.8" stroke-linecap="round" fill="none">
<line x1="105.3" y1="492.1" x2="103.2" y2="865.0"/>
<line x1="295.4" y1="70.6" x2="295.6" y2="865.0"/>
<line x1="409.3" y1="461.2" x2="413.8" y2="865.0"/>
<line x1="418.9" y1="481.6" x2="415.4" y2="865.0"/>
<line x1="603.7" y1="494.1" x2="603.6" y2="865.0"/>
<line x1="757.6" y1="399.3" x2="757.2" y2="865.0"/>
<line x1="984.3" y1="447.6" x2="982.2" y2="865.0"/>
</g>
<g stroke="#000" stroke-width="3.9" fill="none">
<line x1="58.6" y1="39.4" x2="58.6" y2="867.0"/>
<line x1="56.8" y1="865.0" x2="1442.8" y2="865.0"/>
<line x1="58.6" y1="865.0" x2="58.6" y2="876.3"/>
<line x1="289.0" y1="865.0" x2="289.0" y2="876.3"/>
<line x1="519.4" y1="865.0" x2="519.4" y2="876.3"/>
<line x1="749.8" y1="865.0" x2="749.8" y2="876.3"/>
<line x1="980.2" y1="865.0" x2="980.2" y2="876.3"/>
<line x1="1210.6" y1="865.0" x2="1210.6" y2="876.3"/>
<line x1="1441.0" y1="865.0" x2="1441.0" y2="876.3"/>
</g>
<g font-family="Liberation Sans, sans-serif" fill="#000">
<text x="58.6" y="922" font-size="38" text-anchor="middle">20</text>
<text x="289.0" y="922" font-size="38" text-anchor="middle">30</text>
<text x="519.4" y="922" font-size="38" text-anchor="middle">40</text>
<text x="749.8" y="922" font-size="38" text-anchor="middle">50</text>
<text x="980.2" y="922" font-size="38" text-anchor="middle">60</text>
<text x="1210.6" y="922" font-size="38" text-anchor="middle">70</text>
<text x="1441.0" y="922" font-size="38" text-anchor="middle">80</text>
<text x="696.5" y="965" font-size="38" font-weight="bold">2</text>
<text x="717.2" y="965" font-size="37.2" font-weight="bold">O</text>
<rect x="721" y="949.6" width="21.5" height="3.6" fill="#000"/>
<text x="755" y="965" font-size="38" stroke="#000" stroke-width="0.6">(</text>
<text x="768" y="965" font-size="38" font-weight="bold">º</text>
<text x="783.4" y="965" font-size="38" stroke="#000" stroke-width="0.6">)</text>
<text transform="translate(49,451.6) rotate(-90)" font-size="37.5" font-weight="bold" text-anchor="middle">Intensity (a.u.)</text>
<text x="241.5" y="48.3" font-size="42">t-ZrO<tspan font-size="29" dy="9.5">2</tspan></text>
<text x="703.3" y="368.8" font-size="42">t-ZrO<tspan font-size="29" dy="9.5">2</tspan></text>
<text x="932.9" y="425.9" font-size="42">t-ZrO<tspan font-size="29" dy="9.5">2</tspan></text>
<text x="84.5" y="470.0" font-size="42">α-Al<tspan font-size="29" dy="9.5">2</tspan><tspan dy="-9.5">O</tspan><tspan font-size="29" dy="9.5">3</tspan></text>
<text x="321.8" y="438.6" font-size="42">α-Al<tspan font-size="29" dy="9.5">2</tspan><tspan dy="-9.5">O</tspan><tspan font-size="29" dy="9.5">3</tspan></text>
<text x="547.2" y="449.1" font-size="42">α-Al<tspan font-size="29" dy="9.5">2</tspan><tspan dy="-9.5">O</tspan><tspan font-size="29" dy="9.5">3</tspan></text>
<text x="429.2" y="504.1" font-size="42">α-SiC</text>
<text x="1344.4" y="520.3" font-size="42">c)</text>
<text x="1343.4" y="681.6" font-size="42">b)</text>
<text x="1344.1" y="821.2" font-size="42">a)</text>
</g>
</g>
</svg></body></html>
